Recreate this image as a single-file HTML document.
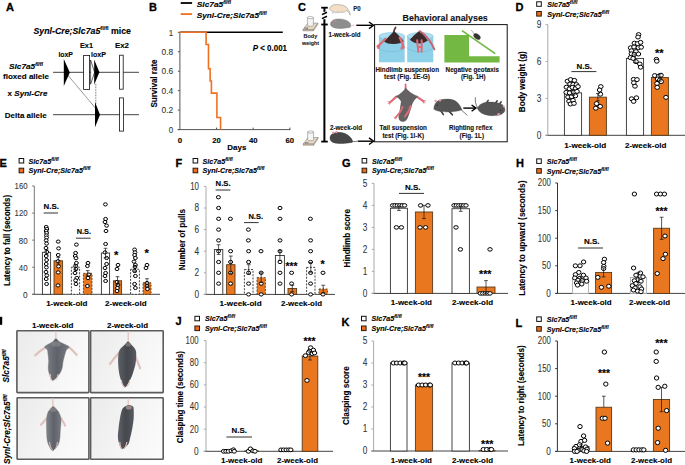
<!DOCTYPE html><html><head><meta charset="utf-8"><style>html,body{margin:0;padding:0;background:#fff;overflow:hidden}svg{display:block}text{font-family:"Liberation Sans",sans-serif}</style></head><body><svg width="685" height="465" viewBox="0 0 685 465"><text x="6" y="11.3" font-size="11.0" fill="#000" stroke="#000" stroke-width="0.3" style="font-weight:bold">A</text>
<text x="149" y="11.3" font-size="11.0" fill="#000" stroke="#000" stroke-width="0.3" style="font-weight:bold">B</text>
<text x="298" y="11.3" font-size="11.0" fill="#000" stroke="#000" stroke-width="0.3" style="font-weight:bold">C</text>
<text x="515.4" y="11.3" font-size="11.0" fill="#000" stroke="#000" stroke-width="0.3" style="font-weight:bold">D</text>
<text x="-0.5" y="166.9" font-size="11.0" fill="#000" stroke="#000" stroke-width="0.3" style="font-weight:bold">E</text>
<text x="175.6" y="166.9" font-size="11.0" fill="#000" stroke="#000" stroke-width="0.3" style="font-weight:bold">F</text>
<text x="342" y="166.9" font-size="11.0" fill="#000" stroke="#000" stroke-width="0.3" style="font-weight:bold">G</text>
<text x="516.0" y="166.70000000000002" font-size="11.0" fill="#000" stroke="#000" stroke-width="0.3" style="font-weight:bold">H</text>
<text x="175.6" y="325.3" font-size="11.0" fill="#000" stroke="#000" stroke-width="0.3" style="font-weight:bold">J</text>
<text x="341.4" y="325.5" font-size="11.0" fill="#000" stroke="#000" stroke-width="0.3" style="font-weight:bold">K</text>
<text x="515.4" y="326.5" font-size="11.0" fill="#000" stroke="#000" stroke-width="0.3" style="font-weight:bold">L</text>
<rect x="0" y="316.8" width="2.2" height="8" fill="#000"/>
<text x="33.5" y="33.6" font-size="8.30" fill="#000" stroke="#000" stroke-width="0.12" textLength="97.50" lengthAdjust="spacingAndGlyphs" style="font-weight:bold"><tspan style="font-style:italic">Synl-Cre;Slc7a5</tspan><tspan font-size="5.2" dy="-3.2">fl/fl</tspan><tspan dy="3.2"> mice</tspan></text>
<text x="80" y="48.2" font-size="8.10" fill="#000" stroke="#000" stroke-width="0.12" textLength="13.00" lengthAdjust="spacingAndGlyphs" style="font-weight:bold">Ex1</text>
<text x="115" y="48.2" font-size="8.10" fill="#000" stroke="#000" stroke-width="0.12" textLength="14.00" lengthAdjust="spacingAndGlyphs" style="font-weight:bold">Ex2</text>
<text x="58.4" y="57.2" font-size="7.60" fill="#000" stroke="#000" stroke-width="0.12" textLength="14.60" lengthAdjust="spacingAndGlyphs" style="font-weight:bold">loxP</text>
<text x="91" y="57.2" font-size="7.60" fill="#000" stroke="#000" stroke-width="0.12" textLength="15.00" lengthAdjust="spacingAndGlyphs" style="font-weight:bold">loxP</text>
<text x="9" y="69.2" font-size="7.90" fill="#000" stroke="#000" stroke-width="0.12" textLength="34.00" lengthAdjust="spacingAndGlyphs" style="font-weight:bold;font-style:italic">Slc7a5<tspan font-size="5.0" dy="-3.2">fl/fl</tspan></text>
<text x="3" y="79.4" font-size="8.10" fill="#000" stroke="#000" stroke-width="0.12" textLength="46.00" lengthAdjust="spacingAndGlyphs" style="font-weight:bold">floxed allele</text>
<text x="7.6" y="96.2" font-size="8.10" fill="#000" stroke="#000" stroke-width="0.12" textLength="39.80" lengthAdjust="spacingAndGlyphs" style="font-weight:bold">x <tspan style="font-style:italic">Synl-Cre</tspan></text>
<text x="4.8" y="118.0" font-size="8.10" fill="#000" stroke="#000" stroke-width="0.12" textLength="41.80" lengthAdjust="spacingAndGlyphs" style="font-weight:bold">Delta allele</text>
<line x1="53" y1="72.3" x2="139" y2="72.3" stroke="#444" stroke-width="1"/>
<line x1="53" y1="114.7" x2="139" y2="114.7" stroke="#444" stroke-width="1"/>
<line x1="66" y1="73" x2="95.8" y2="108.5" stroke="#111" stroke-width="0.7" stroke-dasharray="0.9 0.5"/>
<line x1="95.8" y1="84" x2="95.8" y2="104" stroke="#222" stroke-width="0.7" stroke-dasharray="0.8 0.8"/>
<path d="M63.8,59 L69.8,72.4 L63.8,86 Z" fill="#000"/>
<rect x="83.6" y="55.4" width="6" height="34" fill="#fff" stroke="#111" stroke-width="0.8"/>
<path d="M90.6,60 L94.6,72.3 L90.6,84.2 Z" fill="#fff" stroke="#000" stroke-width="0.6"/>
<path d="M94.2,59.6 L99.4,72.3 L94.2,84.8 Z" fill="#000"/>
<rect x="119.6" y="55.2" width="3.6" height="34" fill="#fff" stroke="#111" stroke-width="0.8"/>
<path d="M95,102 L100,114.7 L95,127.2 Z" fill="#000"/>
<rect x="119.5" y="97.9" width="4" height="33.2" fill="#fff" stroke="#111" stroke-width="0.8"/>
<line x1="180.7" y1="3" x2="192.1" y2="3" stroke="#000" stroke-width="1.8"/>
<line x1="180.7" y1="14.1" x2="192.1" y2="14.1" stroke="#F07020" stroke-width="1.8"/>
<text x="196.8" y="6.8" font-size="7.70" fill="#000" stroke="#000" stroke-width="0.12" textLength="34.20" lengthAdjust="spacingAndGlyphs" style="font-weight:bold;font-style:italic">Slc7a5<tspan font-size="4.8" dy="-3.0">fl/fl</tspan></text>
<text x="196.8" y="17.5" font-size="7.70" fill="#000" stroke="#000" stroke-width="0.12" textLength="69.80" lengthAdjust="spacingAndGlyphs" style="font-weight:bold;font-style:italic">Synl-Cre;Slc7a5<tspan font-size="4.8" dy="-3.0">fl/fl</tspan></text>
<line x1="179.9" y1="32.3" x2="179.9" y2="129.6" stroke="#555555" stroke-width="1"/>
<line x1="177.6" y1="129.6" x2="290.5" y2="129.6" stroke="#555555" stroke-width="1"/>
<line x1="177.9" y1="129.60" x2="179.9" y2="129.60" stroke="#555555" stroke-width="1"/>
<text x="168.79999999999998" y="132.79999999999998" font-size="8.60" fill="#333333" stroke="#333333" stroke-width="0.08" textLength="4.40" lengthAdjust="spacingAndGlyphs" style="">0</text>
<line x1="177.9" y1="110.14" x2="179.9" y2="110.14" stroke="#555555" stroke-width="1"/>
<text x="161.6" y="113.33999999999999" font-size="8.60" fill="#333333" stroke="#333333" stroke-width="0.08" textLength="11.60" lengthAdjust="spacingAndGlyphs" style="">0.2</text>
<line x1="177.9" y1="90.68" x2="179.9" y2="90.68" stroke="#555555" stroke-width="1"/>
<text x="161.6" y="93.88" font-size="8.60" fill="#333333" stroke="#333333" stroke-width="0.08" textLength="11.60" lengthAdjust="spacingAndGlyphs" style="">0.4</text>
<line x1="177.9" y1="71.22" x2="179.9" y2="71.22" stroke="#555555" stroke-width="1"/>
<text x="161.6" y="74.42" font-size="8.60" fill="#333333" stroke="#333333" stroke-width="0.08" textLength="11.60" lengthAdjust="spacingAndGlyphs" style="">0.6</text>
<line x1="177.9" y1="51.76" x2="179.9" y2="51.76" stroke="#555555" stroke-width="1"/>
<text x="161.6" y="54.959999999999994" font-size="8.60" fill="#333333" stroke="#333333" stroke-width="0.08" textLength="11.60" lengthAdjust="spacingAndGlyphs" style="">0.8</text>
<line x1="177.9" y1="32.30" x2="179.9" y2="32.30" stroke="#555555" stroke-width="1"/>
<text x="168.79999999999998" y="35.5" font-size="8.60" fill="#333333" stroke="#333333" stroke-width="0.08" textLength="4.40" lengthAdjust="spacingAndGlyphs" style="">1</text>
<text x="177.70000000000002" y="143.0" font-size="7.80" fill="#000" stroke="#000" stroke-width="0.12" textLength="4.40" lengthAdjust="spacingAndGlyphs" style="font-weight:bold">0</text>
<line x1="216.54" y1="127.6" x2="216.54" y2="129.6" stroke="#555555" stroke-width="1"/>
<text x="212.24" y="143.0" font-size="7.80" fill="#000" stroke="#000" stroke-width="0.12" textLength="8.60" lengthAdjust="spacingAndGlyphs" style="font-weight:bold">20</text>
<line x1="253.18" y1="127.6" x2="253.18" y2="129.6" stroke="#555555" stroke-width="1"/>
<text x="248.88" y="143.0" font-size="7.80" fill="#000" stroke="#000" stroke-width="0.12" textLength="8.60" lengthAdjust="spacingAndGlyphs" style="font-weight:bold">40</text>
<line x1="289.82" y1="127.6" x2="289.82" y2="129.6" stroke="#555555" stroke-width="1"/>
<text x="285.52" y="143.0" font-size="7.80" fill="#000" stroke="#000" stroke-width="0.12" textLength="8.60" lengthAdjust="spacingAndGlyphs" style="font-weight:bold">60</text>
<text x="227.3" y="149.6" font-size="7.80" fill="#000" stroke="#000" stroke-width="0.12" textLength="19.00" lengthAdjust="spacingAndGlyphs" style="font-weight:bold">Days</text>
<text x="0" y="0" font-size="8.969999999999999" fill="#000" text-anchor="middle" textLength="48.10" lengthAdjust="spacingAndGlyphs" stroke="#000" stroke-width="0.12" style="font-weight:bold" transform="translate(156.83 83.55) rotate(-90)">Survival rate</text>
<line x1="179.9" y1="32.3" x2="282.8" y2="32.3" stroke="#000" stroke-width="1.6"/>
<path d="M179.9,32.30 H206.10 V44.46 H208.48 V68.79 H210.13 V80.95 H211.41 V93.11 H216.91 V117.44 H220.57 V129.60" fill="none" stroke="#F07020" stroke-width="1.6"/>
<text x="252.7" y="50.6" font-size="8.60" fill="#000" stroke="#000" stroke-width="0.12" textLength="34.30" lengthAdjust="spacingAndGlyphs" style="font-weight:bold"><tspan style="font-style:italic">P</tspan> &lt; 0.001</text>
<line x1="324.4" y1="7.7" x2="324.4" y2="11.8" stroke="#000" stroke-width="2"/>
<line x1="322" y1="14.6" x2="327" y2="12.2" stroke="#000" stroke-width="1.6"/>
<line x1="322" y1="18.6" x2="327" y2="16.2" stroke="#000" stroke-width="1.6"/>
<line x1="324.4" y1="19.2" x2="324.4" y2="141.6" stroke="#000" stroke-width="2"/>
<line x1="321.2" y1="7.7" x2="327.8" y2="7.7" stroke="#000" stroke-width="1.8"/>
<line x1="321.2" y1="24.5" x2="327.8" y2="24.5" stroke="#000" stroke-width="1.8"/>
<line x1="321.2" y1="141.6" x2="327.8" y2="141.6" stroke="#000" stroke-width="1.8"/>
<line x1="356.3" y1="25.3" x2="372.5" y2="25.3" stroke="#000" stroke-width="1.4"/>
<path d="M369,22 L373.6,25.3 L369,28.6" fill="none" stroke="#000" stroke-width="1.4"/>
<line x1="358" y1="141.2" x2="372.5" y2="141.2" stroke="#000" stroke-width="1.4"/>
<path d="M369,137.9 L373.6,141.2 L369,144.5" fill="none" stroke="#000" stroke-width="1.4"/>
<rect x="374.6" y="24.6" width="132.6" height="117.2" fill="none" stroke="#111" stroke-width="1"/>
<path d="M302.9,29.6 L307.9,23.1 L317.9,23.1 L313.4,29.6 Z" fill="#e9d8c1" stroke="#777" stroke-width="0.5"/>
<path d="M302.9,29.6 L313.4,29.6 L313.4,30.900000000000002 L302.9,30.900000000000002 Z" fill="#cdb89c" stroke="#777" stroke-width="0.4"/>
<path d="M313.4,29.6 L317.9,23.1 L317.9,24.400000000000002 L313.4,30.900000000000002 Z" fill="#d8c4a8" stroke="#777" stroke-width="0.4"/>
<rect x="304.9" y="27.8" width="3" height="1.2" fill="#9ab" stroke="#666" stroke-width="0.3"/>
<path d="M307.4,17.6 L307.4,25.200000000000003 A3,1.1 0 0 0 313.4,25.200000000000003 L313.4,17.6 Z" fill="#f4f4f4" stroke="#777" stroke-width="0.5"/>
<ellipse cx="310.4" cy="17.6" rx="3" ry="1.1" fill="#fff" stroke="#777" stroke-width="0.5"/>
<path d="M303.1,144.0 L308.1,137.5 L318.1,137.5 L313.6,144.0 Z" fill="#e9d8c1" stroke="#777" stroke-width="0.5"/>
<path d="M303.1,144.0 L313.6,144.0 L313.6,145.3 L303.1,145.3 Z" fill="#cdb89c" stroke="#777" stroke-width="0.4"/>
<path d="M313.6,144.0 L318.1,137.5 L318.1,138.8 L313.6,145.3 Z" fill="#d8c4a8" stroke="#777" stroke-width="0.4"/>
<rect x="305.1" y="142.2" width="3" height="1.2" fill="#9ab" stroke="#666" stroke-width="0.3"/>
<path d="M307.6,132.0 L307.6,139.6 A3,1.1 0 0 0 313.6,139.6 L313.6,132.0 Z" fill="#f4f4f4" stroke="#777" stroke-width="0.5"/>
<ellipse cx="310.6" cy="132.0" rx="3" ry="1.1" fill="#fff" stroke="#777" stroke-width="0.5"/>
<text x="303.6" y="37.9" font-size="6.20" fill="#222" stroke="#222" stroke-width="0.12" textLength="13.60" lengthAdjust="spacingAndGlyphs" style="font-weight:bold">Body</text>
<text x="302.1" y="44.7" font-size="6.20" fill="#222" stroke="#222" stroke-width="0.12" textLength="17.00" lengthAdjust="spacingAndGlyphs" style="font-weight:bold">weight</text>
<path d="M329.5,8.2 C331,5.5 334,4.2 337,4.6 C341,4.6 345,5.4 347,7.8 C348.5,9.6 349.8,12 350.3,15.2 C349.2,12.6 347.6,10.8 346,10.6 C345.6,11.6 344.6,12.2 343.4,12.2 L336.5,12.2 C335,12.6 333.3,12.4 332.2,11 C330.8,10.6 329.6,9.6 329.5,8.2 Z" fill="#f2dfc6" stroke="#888" stroke-width="0.5"/>
<path d="M333,12.2 L332.4,13.8 M338,12.4 L337.6,13.4" stroke="#6a8fb8" stroke-width="0.5"/>
<text x="353.2" y="10.8" font-size="6.60" fill="#222" stroke="#222" stroke-width="0.12" textLength="7.40" lengthAdjust="spacingAndGlyphs" style="font-weight:bold">P0</text>
<path d="M330.4,24 C330.8,21 333.6,19.2 337,19 C342,18.6 347,19.6 349.8,22.8 C351,24.6 351,26.2 350,27.4 L344,28.2 C340,28.6 336,28.4 333.4,27.4 C331.4,26.8 330.4,25.6 330.4,24 Z" fill="#8e8e8e" stroke="#777" stroke-width="0.4"/>
<path d="M350.4,26.2 Q352.5,25.2 354.4,25.3" stroke="#e39a9a" stroke-width="0.7" fill="none"/>
<circle cx="335" cy="21.3" r="0.9" fill="#e27a8a"/><circle cx="333.4" cy="26.4" r="0.5" fill="#e27a8a"/>
<text x="328.5" y="36.6" font-size="6.40" fill="#111" stroke="#111" stroke-width="0.12" textLength="31.90" lengthAdjust="spacingAndGlyphs" style="font-weight:bold">1-week-old</text>
<path d="M330,137.5 C330.4,134.6 333,132.6 336.6,132.4 C342,132 347.5,133.6 350.6,137.6 C352.4,139.6 353,141.2 352.2,142.4 L346,143.2 C341,143.8 336,143.6 333,142.4 C330.8,141.6 329.8,139.6 330,137.5 Z" fill="#474747" stroke="#333" stroke-width="0.4"/>
<path d="M352,141.6 Q355.5,141.6 358,141.2" stroke="#555" stroke-width="0.8" fill="none"/>
<circle cx="333.2" cy="132.8" r="1.2" fill="#e89aa6"/><circle cx="336.4" cy="132.2" r="1.1" fill="#e89aa6"/>
<text x="330" y="129.8" font-size="6.40" fill="#111" stroke="#111" stroke-width="0.12" textLength="32.00" lengthAdjust="spacingAndGlyphs" style="font-weight:bold">2-week-old</text>
<text x="402.6" y="20.9" font-size="9.60" fill="#111" stroke="#111" stroke-width="0.12" textLength="85.20" lengthAdjust="spacingAndGlyphs" style="font-weight:bold">Behavioral analyses</text>
<path d="M378.9,36.2 L378.9,62.3 L404.7,62.3 L404.7,36.2 Z" fill="#8dd0e8"/>
<path d="M378.9,47.5 A12.9,4.2 0 0 0 404.7,47.5" fill="none" stroke="#6fb6d2" stroke-width="0.5"/>
<ellipse cx="391.79999999999995" cy="36.2" rx="12.9" ry="3.6" fill="#abdff1" stroke="#78bcd6" stroke-width="0.5"/>
<path d="M407.2,36.2 L407.2,62.3 L433.3,62.3 L433.3,36.2 Z" fill="#8dd0e8"/>
<path d="M407.2,47.5 A13.05,4.2 0 0 0 433.3,47.5" fill="none" stroke="#6fb6d2" stroke-width="0.5"/>
<ellipse cx="420.25" cy="36.2" rx="13.05" ry="3.6" fill="#abdff1" stroke="#78bcd6" stroke-width="0.5"/>
<path d="M393.6,32.2 C394,30.4 394.6,28.8 395.6,27.4" stroke="#5a3434" stroke-width="1.7" fill="none" stroke-linecap="round"/>
<path d="M394.2,31.2 C391,34 387,38 384,41.6 C386.5,43.6 390,44.2 394,44 C398,43.8 401.5,43 403.8,41.2 C401,37.6 397.6,34 394.2,31.2 Z" fill="#3b2a2b"/>
<path d="M385.4,38.6 C383,41.6 380.5,44 377.6,46.4 M379.6,44.6 L378.4,48 M399.8,37.6 C401.4,40.6 402.8,43.6 403.6,47.6 M403.2,45.2 L401.6,48.4" stroke="#e06b78" stroke-width="2.3" fill="none" stroke-linecap="round"/>
<path d="M419.4,30.8 C416,33.6 412.4,36.6 409.8,39.8 C412.6,42.6 416.4,43.8 420.4,43.4 C423,43 425.6,41.8 427.8,40.4 C425.4,36.8 422.4,33.4 419.4,30.8 Z" fill="#3b2a2b"/>
<path d="M419.6,31.2 C424,33.6 428.6,39 431.4,43.6 C432.6,45.6 433.6,47.6 434.4,49.4" stroke="#c8626d" stroke-width="1.9" fill="none" stroke-linecap="round"/>
<path d="M417.2,40.2 C417.4,44 417.8,48 418.4,51.8 M421.6,40.2 C421.8,44 421.8,48 421.6,51.8 M418,47 L421.6,47" stroke="#e06b78" stroke-width="2.0" fill="none" stroke-linecap="round"/>
<text x="375.6" y="72.2" font-size="6.60" fill="#111" stroke="#111" stroke-width="0.12" textLength="63.40" lengthAdjust="spacingAndGlyphs" style="font-weight:bold">Hindlimb suspension</text>
<text x="384" y="79.2" font-size="6.60" fill="#111" stroke="#111" stroke-width="0.12" textLength="46.00" lengthAdjust="spacingAndGlyphs" style="font-weight:bold">test  (Fig. 1E-G)</text>
<path d="M444.4,35.0 L469,35.0 L469,56.2 L499.6,56.2 L499.6,62.4 L444.4,62.4 Z" fill="#72b843"/>
<line x1="462" y1="30.6" x2="495.2" y2="53.6" stroke="#72b843" stroke-width="1.7"/>
<ellipse cx="477.0" cy="36.5" rx="4.0" ry="2.5" transform="rotate(38 477 36.5)" fill="#363636"/>
<path d="M474.2,34 C473.2,32.6 472.2,31.2 471.2,30" stroke="#777" stroke-width="0.6" fill="none"/>
<text x="445.6" y="71.8" font-size="6.60" fill="#111" stroke="#111" stroke-width="0.12" textLength="53.40" lengthAdjust="spacingAndGlyphs" style="font-weight:bold">Negative geotaxis</text>
<text x="461" y="79.2" font-size="6.60" fill="#111" stroke="#111" stroke-width="0.12" textLength="24.60" lengthAdjust="spacingAndGlyphs" style="font-weight:bold">(Fig. 1H)</text>
<path d="M405.6,84.4 L405.6,88.4" stroke="#e06b78" stroke-width="1.8" stroke-linecap="round"/>
<path d="M396.4,96.6 L390.2,102.2 M416.8,96.6 L423.2,101.2" stroke="#e06b78" stroke-width="2.2" fill="none" stroke-linecap="round"/>
<path d="M390.2,102.2 l-2.2,-0.4 M390.2,102.2 l-1.8,1.4 M390.2,102.2 l-0.6,2 M423.2,101.2 l2.2,-0.6 M423.2,101.2 l1.8,1.2 M423.2,101.2 l0.6,2" stroke="#e06b78" stroke-width="0.9" stroke-linecap="round"/>
<path d="M405.6,87.6 C403.6,91.2 400,94.6 395.4,96.4 C398,97.6 400.4,99.4 401,101.6 C400.6,105 400,108 399.6,111 C399,114 398.2,116.4 398.6,118.4 C399.4,120.6 401.4,122 403.6,121.8 C405.8,121.4 407.4,119.4 408.2,116.8 C409.6,113 410.8,109.4 411.6,106.4 C412.4,103.6 413.6,101.2 414.8,99.8 C415.8,98.6 416.8,97.6 418,96.4 C412.6,94.4 408,91 405.6,87.6 Z" fill="#656263"/>
<path d="M402.6,107 C401.4,110.6 399,114 396,117.2 M410.6,106 C410,109.6 408,112.8 405.6,115.6" stroke="#e06b78" stroke-width="1.9" fill="none" stroke-linecap="round"/>
<path d="M396,117.2 l-1.8,0.2 M396,117.2 l-1.2,1.4 M396,117.2 l-0.2,1.8 M405.6,115.6 l-1.6,0.8 M405.6,115.6 l-0.6,1.8" stroke="#e06b78" stroke-width="0.8" stroke-linecap="round"/>
<text x="379.6" y="130.4" font-size="6.60" fill="#111" stroke="#111" stroke-width="0.12" textLength="47.40" lengthAdjust="spacingAndGlyphs" style="font-weight:bold">Tail suspension</text>
<text x="382.4" y="138.2" font-size="6.60" fill="#111" stroke="#111" stroke-width="0.12" textLength="41.60" lengthAdjust="spacingAndGlyphs" style="font-weight:bold">test (Fig. 1I-K)</text>
<path d="M461,109.6 C463,111.6 465.4,113.6 467.4,115.4" stroke="#555" stroke-width="0.8" fill="none"/>
<path d="M441,111 L443.4,114.6 M449.4,111.6 L452.4,114.8" stroke="#3c3c3c" stroke-width="1.6" stroke-linecap="round"/>
<path d="M433.8,108.6 C434,104.6 436,101.4 439.6,100 C443.6,99 448,98.8 452,99.6 C456,100.6 459.4,103.4 462,109.8 C458.4,111.2 454,111.8 448.6,112 C443.6,112 439.4,111.6 436.4,110.6 C435,110.2 434.2,109.6 433.8,108.6 Z" fill="#555" stroke="#444" stroke-width="0.3"/>
<circle cx="435.6" cy="100.9" r="1.25" fill="#eb9aa6"/><circle cx="440.1" cy="100.4" r="1.15" fill="#eb9aa6"/><circle cx="433.7" cy="109" r="0.6" fill="#eb9aa6"/>
<circle cx="437.2" cy="105.2" r="0.6" fill="#222"/>
<line x1="463.3" y1="108.1" x2="475" y2="108.1" stroke="#000" stroke-width="1.4"/>
<path d="M471.6,105 L476,108.1 L471.6,111.2" fill="none" stroke="#000" stroke-width="1.4"/>
<path d="M477.6,107.6 C475.6,104.6 475,101 475.4,97.3" stroke="#555" stroke-width="0.8" fill="none"/>
<path d="M486.4,103.2 L488.2,100.3 M495.6,103 L497.2,100.8 M499.6,104 L501.2,101.8" stroke="#3c3c3c" stroke-width="1.5" stroke-linecap="round"/>
<path d="M477.2,108 C479,105 482,102.8 486,102.2 C491,101.8 496,102.2 500,103.4 C503,104.6 505,107 505,110.2 C504.4,113 501.4,115 496.4,115.6 C491,116 486,115.4 482,113.4 C479.6,112 478,110 477.2,108 Z" fill="#555" stroke="#444" stroke-width="0.3"/>
<circle cx="498.6" cy="114.4" r="1.3" fill="#eb9aa6"/><circle cx="503.8" cy="106.4" r="1.0" fill="#eb9aa6"/><circle cx="505" cy="111" r="0.6" fill="#eb9aa6"/>
<circle cx="500.6" cy="110.4" r="0.6" fill="#222"/>
<text x="449" y="130.4" font-size="6.60" fill="#111" stroke="#111" stroke-width="0.12" textLength="43.40" lengthAdjust="spacingAndGlyphs" style="font-weight:bold">Righting reflex</text>
<text x="459.6" y="138.2" font-size="6.60" fill="#111" stroke="#111" stroke-width="0.12" textLength="24.40" lengthAdjust="spacingAndGlyphs" style="font-weight:bold">(Fig. 1L)</text>
<rect x="536.70" y="1.80" width="4.6" height="4.5" fill="#fff" stroke="#111" stroke-width="1.0"/>
<rect x="536.70" y="11.50" width="4.6" height="4.6" fill="#EC6E1E" stroke="#2a1a0a" stroke-width="1.0"/>
<text x="547.2" y="6.8" font-size="7.40" fill="#000" stroke="#000" stroke-width="0.12" textLength="30.20" lengthAdjust="spacingAndGlyphs" style="font-weight:bold;font-style:italic">Slc7a5<tspan font-size="5.2" dy="-3.0">fl/fl</tspan></text>
<text x="547.2" y="16.5" font-size="7.40" fill="#000" stroke="#000" stroke-width="0.12" textLength="62.00" lengthAdjust="spacingAndGlyphs" style="font-weight:bold;font-style:italic">Synl-Cre;Slc7a5<tspan font-size="5.2" dy="-3.0">fl/fl</tspan></text>
<line x1="547.8" y1="24.6" x2="547.8" y2="135.3" stroke="#aaa" stroke-width="1"/>
<line x1="545.5999999999999" y1="135.3" x2="685" y2="135.3" stroke="#444" stroke-width="1"/>
<line x1="545.5999999999999" y1="135.30" x2="547.8" y2="135.30" stroke="#aaa" stroke-width="1"/>
<text x="536.8" y="138.70000000000002" font-size="10.75" fill="#333333" stroke="#333333" stroke-width="0.08" textLength="4.60" lengthAdjust="spacingAndGlyphs" style="">0</text>
<line x1="545.5999999999999" y1="98.40" x2="547.8" y2="98.40" stroke="#aaa" stroke-width="1"/>
<text x="536.8" y="101.80000000000001" font-size="10.75" fill="#333333" stroke="#333333" stroke-width="0.08" textLength="4.60" lengthAdjust="spacingAndGlyphs" style="">3</text>
<line x1="545.5999999999999" y1="61.50" x2="547.8" y2="61.50" stroke="#aaa" stroke-width="1"/>
<text x="536.8" y="64.9" font-size="10.75" fill="#333333" stroke="#333333" stroke-width="0.08" textLength="4.60" lengthAdjust="spacingAndGlyphs" style="">6</text>
<line x1="545.5999999999999" y1="24.60" x2="547.8" y2="24.60" stroke="#aaa" stroke-width="1"/>
<text x="536.8" y="27.999999999999993" font-size="10.75" fill="#333333" stroke="#333333" stroke-width="0.08" textLength="4.60" lengthAdjust="spacingAndGlyphs" style="">9</text>
<text x="0" y="0" font-size="9.2" fill="#000" text-anchor="middle" textLength="60.90" lengthAdjust="spacingAndGlyphs" stroke="#000" stroke-width="0.12" style="font-weight:bold" transform="translate(524.81 81.75) rotate(-90)">Body weight (g)</text>
<rect x="564.40" y="92.87" width="17.20" height="42.44" fill="#fff" stroke="#333" stroke-width="0.9"/>
<rect x="589.40" y="97.17" width="17.00" height="38.13" fill="#E8771F" stroke="#5a3a1a" stroke-width="0.9"/>
<rect x="626.40" y="58.42" width="17.20" height="76.88" fill="#fff" stroke="#333" stroke-width="0.9"/>
<rect x="651.40" y="77.49" width="17.00" height="57.81" fill="#E8771F" stroke="#5a3a1a" stroke-width="0.9"/>
<ellipse cx="567.40" cy="81.20" rx="2.3" ry="2.0" fill="#fff" stroke="#000" stroke-width="1.0"/>
<ellipse cx="570.60" cy="79.60" rx="2.3" ry="2.0" fill="#fff" stroke="#000" stroke-width="1.0"/>
<ellipse cx="574.40" cy="80.40" rx="2.3" ry="2.0" fill="#fff" stroke="#000" stroke-width="1.0"/>
<ellipse cx="570.00" cy="84.00" rx="2.3" ry="2.0" fill="#fff" stroke="#000" stroke-width="1.0"/>
<ellipse cx="573.20" cy="84.40" rx="2.3" ry="2.0" fill="#fff" stroke="#000" stroke-width="1.0"/>
<ellipse cx="576.40" cy="84.60" rx="2.3" ry="2.0" fill="#fff" stroke="#000" stroke-width="1.0"/>
<ellipse cx="566.40" cy="87.20" rx="2.3" ry="2.0" fill="#fff" stroke="#000" stroke-width="1.0"/>
<ellipse cx="569.40" cy="88.80" rx="2.3" ry="2.0" fill="#fff" stroke="#000" stroke-width="1.0"/>
<ellipse cx="572.40" cy="87.40" rx="2.3" ry="2.0" fill="#fff" stroke="#000" stroke-width="1.0"/>
<ellipse cx="575.60" cy="88.40" rx="2.3" ry="2.0" fill="#fff" stroke="#000" stroke-width="1.0"/>
<ellipse cx="578.00" cy="86.60" rx="2.3" ry="2.0" fill="#fff" stroke="#000" stroke-width="1.0"/>
<ellipse cx="566.20" cy="92.40" rx="2.3" ry="2.0" fill="#fff" stroke="#000" stroke-width="1.0"/>
<ellipse cx="569.60" cy="92.80" rx="2.3" ry="2.0" fill="#fff" stroke="#000" stroke-width="1.0"/>
<ellipse cx="573.40" cy="92.00" rx="2.3" ry="2.0" fill="#fff" stroke="#000" stroke-width="1.0"/>
<ellipse cx="577.00" cy="91.40" rx="2.3" ry="2.0" fill="#fff" stroke="#000" stroke-width="1.0"/>
<ellipse cx="568.00" cy="97.00" rx="2.3" ry="2.0" fill="#fff" stroke="#000" stroke-width="1.0"/>
<ellipse cx="571.60" cy="96.60" rx="2.3" ry="2.0" fill="#fff" stroke="#000" stroke-width="1.0"/>
<ellipse cx="575.40" cy="95.80" rx="2.3" ry="2.0" fill="#fff" stroke="#000" stroke-width="1.0"/>
<ellipse cx="569.00" cy="101.20" rx="2.3" ry="2.0" fill="#fff" stroke="#000" stroke-width="1.0"/>
<ellipse cx="573.00" cy="100.40" rx="2.3" ry="2.0" fill="#fff" stroke="#000" stroke-width="1.0"/>
<ellipse cx="570.40" cy="104.00" rx="2.3" ry="2.0" fill="#fff" stroke="#000" stroke-width="1.0"/>
<ellipse cx="574.00" cy="103.40" rx="2.3" ry="2.0" fill="#fff" stroke="#000" stroke-width="1.0"/>
<ellipse cx="600.80" cy="86.60" rx="2.3" ry="2.0" fill="#fff" stroke="#000" stroke-width="1.0"/>
<ellipse cx="599.60" cy="90.00" rx="2.3" ry="2.0" fill="#fff" stroke="#000" stroke-width="1.0"/>
<ellipse cx="600.40" cy="94.20" rx="2.3" ry="2.0" fill="#fff" stroke="#000" stroke-width="1.0"/>
<ellipse cx="596.60" cy="103.60" rx="2.3" ry="2.0" fill="#fff" stroke="#000" stroke-width="1.0"/>
<ellipse cx="600.20" cy="106.40" rx="2.3" ry="2.0" fill="#fff" stroke="#000" stroke-width="1.0"/>
<ellipse cx="595.80" cy="108.20" rx="2.3" ry="2.0" fill="#fff" stroke="#000" stroke-width="1.0"/>
<ellipse cx="638.60" cy="34.60" rx="2.3" ry="2.0" fill="#fff" stroke="#000" stroke-width="1.0"/>
<ellipse cx="638.00" cy="37.00" rx="2.3" ry="2.0" fill="#fff" stroke="#000" stroke-width="1.0"/>
<ellipse cx="634.40" cy="43.20" rx="2.3" ry="2.0" fill="#fff" stroke="#000" stroke-width="1.0"/>
<ellipse cx="637.60" cy="43.60" rx="2.3" ry="2.0" fill="#fff" stroke="#000" stroke-width="1.0"/>
<ellipse cx="640.60" cy="42.40" rx="2.3" ry="2.0" fill="#fff" stroke="#000" stroke-width="1.0"/>
<ellipse cx="630.60" cy="47.80" rx="2.3" ry="2.0" fill="#fff" stroke="#000" stroke-width="1.0"/>
<ellipse cx="634.00" cy="47.00" rx="2.3" ry="2.0" fill="#fff" stroke="#000" stroke-width="1.0"/>
<ellipse cx="638.40" cy="47.60" rx="2.3" ry="2.0" fill="#fff" stroke="#000" stroke-width="1.0"/>
<ellipse cx="641.20" cy="47.20" rx="2.3" ry="2.0" fill="#fff" stroke="#000" stroke-width="1.0"/>
<ellipse cx="631.40" cy="50.80" rx="2.3" ry="2.0" fill="#fff" stroke="#000" stroke-width="1.0"/>
<ellipse cx="636.00" cy="51.60" rx="2.3" ry="2.0" fill="#fff" stroke="#000" stroke-width="1.0"/>
<ellipse cx="631.40" cy="53.80" rx="2.3" ry="2.0" fill="#fff" stroke="#000" stroke-width="1.0"/>
<ellipse cx="634.40" cy="54.40" rx="2.3" ry="2.0" fill="#fff" stroke="#000" stroke-width="1.0"/>
<ellipse cx="638.40" cy="54.00" rx="2.3" ry="2.0" fill="#fff" stroke="#000" stroke-width="1.0"/>
<ellipse cx="630.40" cy="57.60" rx="2.3" ry="2.0" fill="#fff" stroke="#000" stroke-width="1.0"/>
<ellipse cx="633.20" cy="58.40" rx="2.3" ry="2.0" fill="#fff" stroke="#000" stroke-width="1.0"/>
<ellipse cx="636.00" cy="61.60" rx="2.3" ry="2.0" fill="#fff" stroke="#000" stroke-width="1.0"/>
<ellipse cx="639.80" cy="64.00" rx="2.3" ry="2.0" fill="#fff" stroke="#000" stroke-width="1.0"/>
<ellipse cx="640.60" cy="67.20" rx="2.3" ry="2.0" fill="#fff" stroke="#000" stroke-width="1.0"/>
<ellipse cx="633.60" cy="79.40" rx="2.3" ry="2.0" fill="#fff" stroke="#000" stroke-width="1.0"/>
<ellipse cx="637.00" cy="79.60" rx="2.3" ry="2.0" fill="#fff" stroke="#000" stroke-width="1.0"/>
<ellipse cx="633.80" cy="82.80" rx="2.3" ry="2.0" fill="#fff" stroke="#000" stroke-width="1.0"/>
<ellipse cx="635.00" cy="86.20" rx="2.3" ry="2.0" fill="#fff" stroke="#000" stroke-width="1.0"/>
<ellipse cx="631.60" cy="98.80" rx="2.3" ry="2.0" fill="#fff" stroke="#000" stroke-width="1.0"/>
<ellipse cx="636.40" cy="97.80" rx="2.3" ry="2.0" fill="#fff" stroke="#000" stroke-width="1.0"/>
<ellipse cx="633.60" cy="101.40" rx="2.3" ry="2.0" fill="#fff" stroke="#000" stroke-width="1.0"/>
<ellipse cx="656.40" cy="59.40" rx="2.3" ry="2.0" fill="#fff" stroke="#000" stroke-width="1.0"/>
<ellipse cx="656.80" cy="61.20" rx="2.3" ry="2.0" fill="#fff" stroke="#000" stroke-width="1.0"/>
<ellipse cx="654.80" cy="75.60" rx="2.3" ry="2.0" fill="#fff" stroke="#000" stroke-width="1.0"/>
<ellipse cx="658.60" cy="76.40" rx="2.3" ry="2.0" fill="#fff" stroke="#000" stroke-width="1.0"/>
<ellipse cx="661.00" cy="75.20" rx="2.3" ry="2.0" fill="#fff" stroke="#000" stroke-width="1.0"/>
<ellipse cx="657.60" cy="79.00" rx="2.3" ry="2.0" fill="#fff" stroke="#000" stroke-width="1.0"/>
<ellipse cx="659.80" cy="80.00" rx="2.3" ry="2.0" fill="#fff" stroke="#000" stroke-width="1.0"/>
<ellipse cx="657.00" cy="83.40" rx="2.3" ry="2.0" fill="#fff" stroke="#000" stroke-width="1.0"/>
<ellipse cx="661.20" cy="81.60" rx="2.3" ry="2.0" fill="#fff" stroke="#000" stroke-width="1.0"/>
<ellipse cx="657.20" cy="87.40" rx="2.3" ry="2.0" fill="#fff" stroke="#000" stroke-width="1.0"/>
<ellipse cx="666.00" cy="97.40" rx="2.3" ry="2.0" fill="#fff" stroke="#000" stroke-width="1.0"/>
<line x1="573.00" y1="90.16" x2="573.00" y2="95.57" stroke="#111" stroke-width="0.7"/>
<line x1="571.10" y1="90.16" x2="574.90" y2="90.16" stroke="#111" stroke-width="0.7"/>
<line x1="571.10" y1="95.57" x2="574.90" y2="95.57" stroke="#111" stroke-width="0.7"/>
<line x1="597.90" y1="93.48" x2="597.90" y2="100.86" stroke="#111" stroke-width="0.7"/>
<line x1="596.00" y1="93.48" x2="599.80" y2="93.48" stroke="#111" stroke-width="0.7"/>
<line x1="596.00" y1="100.86" x2="599.80" y2="100.86" stroke="#111" stroke-width="0.7"/>
<line x1="635.00" y1="54.12" x2="635.00" y2="62.73" stroke="#111" stroke-width="0.7"/>
<line x1="633.10" y1="54.12" x2="636.90" y2="54.12" stroke="#111" stroke-width="0.7"/>
<line x1="633.10" y1="62.73" x2="636.90" y2="62.73" stroke="#111" stroke-width="0.7"/>
<line x1="659.90" y1="73.80" x2="659.90" y2="81.18" stroke="#111" stroke-width="0.7"/>
<line x1="658.00" y1="73.80" x2="661.80" y2="73.80" stroke="#111" stroke-width="0.7"/>
<line x1="658.00" y1="81.18" x2="661.80" y2="81.18" stroke="#111" stroke-width="0.7"/>
<line x1="571.4" y1="71.6" x2="596.4" y2="71.6" stroke="#333" stroke-width="1"/>
<text x="576.6" y="69.0" font-size="7.00" fill="#000" stroke="#000" stroke-width="0.12" textLength="15.40" lengthAdjust="spacingAndGlyphs" style="font-weight:bold">N.S.</text>
<text x="655" y="56.785000000000004" font-size="10.50" fill="#000" stroke="#000" stroke-width="0.12" textLength="8.60" lengthAdjust="spacingAndGlyphs" style="font-weight:bold">**</text>
<text x="564.2" y="148.0" font-size="7.80" fill="#000" stroke="#000" stroke-width="0.12" textLength="42.00" lengthAdjust="spacingAndGlyphs" style="font-weight:bold">1-week-old</text>
<text x="625" y="148.0" font-size="7.80" fill="#000" stroke="#000" stroke-width="0.12" textLength="41.40" lengthAdjust="spacingAndGlyphs" style="font-weight:bold">2-week-old</text>
<rect x="19.10" y="158.50" width="4.6" height="4.5" fill="#fff" stroke="#111" stroke-width="1.0"/>
<rect x="19.10" y="168.20" width="4.6" height="4.6" fill="#EC6E1E" stroke="#2a1a0a" stroke-width="1.0"/>
<text x="28.5" y="163.6" font-size="7.40" fill="#000" stroke="#000" stroke-width="0.12" textLength="30.20" lengthAdjust="spacingAndGlyphs" style="font-weight:bold;font-style:italic">Slc7a5<tspan font-size="5.2" dy="-3.0">fl/fl</tspan></text>
<text x="28.5" y="173.29999999999998" font-size="7.40" fill="#000" stroke="#000" stroke-width="0.12" textLength="62.00" lengthAdjust="spacingAndGlyphs" style="font-weight:bold;font-style:italic">Synl-Cre;Slc7a5<tspan font-size="5.2" dy="-3.0">fl/fl</tspan></text>
<line x1="34.3" y1="186.0" x2="34.3" y2="294.3" stroke="#777" stroke-width="1"/>
<line x1="32.099999999999994" y1="294.3" x2="160" y2="294.3" stroke="#444" stroke-width="1"/>
<line x1="32.099999999999994" y1="294.30" x2="34.3" y2="294.30" stroke="#777" stroke-width="1"/>
<text x="23.0" y="297.7" font-size="9.75" fill="#333333" stroke="#333333" stroke-width="0.08" textLength="4.60" lengthAdjust="spacingAndGlyphs" style="">0</text>
<line x1="32.099999999999994" y1="267.23" x2="34.3" y2="267.23" stroke="#777" stroke-width="1"/>
<text x="18.8" y="270.625" font-size="9.75" fill="#333333" stroke="#333333" stroke-width="0.08" textLength="8.80" lengthAdjust="spacingAndGlyphs" style="">40</text>
<line x1="32.099999999999994" y1="240.15" x2="34.3" y2="240.15" stroke="#777" stroke-width="1"/>
<text x="18.8" y="243.55" font-size="9.75" fill="#333333" stroke="#333333" stroke-width="0.08" textLength="8.80" lengthAdjust="spacingAndGlyphs" style="">80</text>
<line x1="32.099999999999994" y1="213.07" x2="34.3" y2="213.07" stroke="#777" stroke-width="1"/>
<text x="14.600000000000001" y="216.475" font-size="9.75" fill="#333333" stroke="#333333" stroke-width="0.08" textLength="13.00" lengthAdjust="spacingAndGlyphs" style="">120</text>
<line x1="32.099999999999994" y1="186.00" x2="34.3" y2="186.00" stroke="#777" stroke-width="1"/>
<text x="14.600000000000001" y="189.4" font-size="9.75" fill="#333333" stroke="#333333" stroke-width="0.08" textLength="13.00" lengthAdjust="spacingAndGlyphs" style="">160</text>
<text x="0" y="0" font-size="8.969999999999999" fill="#000" text-anchor="middle" textLength="91.00" lengthAdjust="spacingAndGlyphs" stroke="#000" stroke-width="0.12" style="font-weight:bold" transform="translate(9.83 240.50) rotate(-90)">Latency to fall (seconds)</text>
<rect x="42.40" y="252.33" width="8.20" height="41.97" fill="#fff" stroke="#333" stroke-width="0.9"/>
<rect x="54.00" y="260.79" width="8.60" height="33.51" fill="#E8771F" stroke="#5a3a1a" stroke-width="0.9"/>
<rect x="71.40" y="267.23" width="8.20" height="27.07" fill="#fff" stroke="#333" stroke-width="0.9" stroke-dasharray="2 1.3"/>
<rect x="83.40" y="273.32" width="8.60" height="20.98" fill="#E8771F" stroke="#5a3a1a" stroke-width="0.9" stroke-dasharray="2 1.3"/>
<rect x="101.40" y="253.01" width="8.20" height="41.29" fill="#fff" stroke="#333" stroke-width="0.9"/>
<rect x="113.40" y="280.76" width="8.20" height="13.54" fill="#E8771F" stroke="#5a3a1a" stroke-width="0.9"/>
<rect x="130.60" y="269.26" width="8.80" height="25.04" fill="#fff" stroke="#333" stroke-width="0.9" stroke-dasharray="2 1.3"/>
<rect x="143.00" y="282.79" width="8.00" height="11.51" fill="#E8771F" stroke="#5a3a1a" stroke-width="0.9" stroke-dasharray="2 1.3"/>
<ellipse cx="46.20" cy="227.00" rx="1.9" ry="1.6" fill="#fff" stroke="#000" stroke-width="1.0"/>
<ellipse cx="46.80" cy="229.00" rx="1.9" ry="1.6" fill="#fff" stroke="#000" stroke-width="1.0"/>
<ellipse cx="46.20" cy="231.00" rx="1.9" ry="1.6" fill="#fff" stroke="#000" stroke-width="1.0"/>
<ellipse cx="46.60" cy="233.00" rx="1.9" ry="1.6" fill="#fff" stroke="#000" stroke-width="1.0"/>
<ellipse cx="46.40" cy="235.40" rx="1.9" ry="1.6" fill="#fff" stroke="#000" stroke-width="1.0"/>
<ellipse cx="46.60" cy="237.60" rx="1.9" ry="1.6" fill="#fff" stroke="#000" stroke-width="1.0"/>
<ellipse cx="46.20" cy="240.40" rx="1.9" ry="1.6" fill="#fff" stroke="#000" stroke-width="1.0"/>
<ellipse cx="46.60" cy="243.60" rx="1.9" ry="1.6" fill="#fff" stroke="#000" stroke-width="1.0"/>
<ellipse cx="46.00" cy="248.00" rx="1.9" ry="1.6" fill="#fff" stroke="#000" stroke-width="1.0"/>
<ellipse cx="46.80" cy="252.00" rx="1.9" ry="1.6" fill="#fff" stroke="#000" stroke-width="1.0"/>
<ellipse cx="46.20" cy="256.00" rx="1.9" ry="1.6" fill="#fff" stroke="#000" stroke-width="1.0"/>
<ellipse cx="46.60" cy="260.00" rx="1.9" ry="1.6" fill="#fff" stroke="#000" stroke-width="1.0"/>
<ellipse cx="46.20" cy="264.00" rx="1.9" ry="1.6" fill="#fff" stroke="#000" stroke-width="1.0"/>
<ellipse cx="46.40" cy="267.40" rx="1.9" ry="1.6" fill="#fff" stroke="#000" stroke-width="1.0"/>
<ellipse cx="46.00" cy="272.00" rx="1.9" ry="1.6" fill="#fff" stroke="#000" stroke-width="1.0"/>
<ellipse cx="46.80" cy="275.40" rx="1.9" ry="1.6" fill="#fff" stroke="#000" stroke-width="1.0"/>
<ellipse cx="46.20" cy="279.00" rx="1.9" ry="1.6" fill="#fff" stroke="#000" stroke-width="1.0"/>
<ellipse cx="46.60" cy="284.00" rx="1.9" ry="1.6" fill="#fff" stroke="#000" stroke-width="1.0"/>
<ellipse cx="58.20" cy="241.60" rx="1.9" ry="1.6" fill="#fff" stroke="#000" stroke-width="1.0"/>
<ellipse cx="58.60" cy="248.40" rx="1.9" ry="1.6" fill="#fff" stroke="#000" stroke-width="1.0"/>
<ellipse cx="58.20" cy="255.00" rx="1.9" ry="1.6" fill="#fff" stroke="#000" stroke-width="1.0"/>
<ellipse cx="58.00" cy="261.20" rx="1.9" ry="1.6" fill="#fff" stroke="#000" stroke-width="1.0"/>
<ellipse cx="58.60" cy="266.40" rx="1.9" ry="1.6" fill="#fff" stroke="#000" stroke-width="1.0"/>
<ellipse cx="58.20" cy="272.40" rx="1.9" ry="1.6" fill="#fff" stroke="#000" stroke-width="1.0"/>
<ellipse cx="58.00" cy="285.40" rx="1.9" ry="1.6" fill="#fff" stroke="#000" stroke-width="1.0"/>
<ellipse cx="76.40" cy="244.60" rx="1.9" ry="1.6" fill="#fff" stroke="#000" stroke-width="1.0"/>
<ellipse cx="75.60" cy="253.00" rx="1.9" ry="1.6" fill="#fff" stroke="#000" stroke-width="1.0"/>
<ellipse cx="75.20" cy="256.00" rx="1.9" ry="1.6" fill="#fff" stroke="#000" stroke-width="1.0"/>
<ellipse cx="76.00" cy="258.20" rx="1.9" ry="1.6" fill="#fff" stroke="#000" stroke-width="1.0"/>
<ellipse cx="76.40" cy="263.00" rx="1.9" ry="1.6" fill="#fff" stroke="#000" stroke-width="1.0"/>
<ellipse cx="75.60" cy="266.00" rx="1.9" ry="1.6" fill="#fff" stroke="#000" stroke-width="1.0"/>
<ellipse cx="76.00" cy="269.00" rx="1.9" ry="1.6" fill="#fff" stroke="#000" stroke-width="1.0"/>
<ellipse cx="75.00" cy="273.00" rx="1.9" ry="1.6" fill="#fff" stroke="#000" stroke-width="1.0"/>
<ellipse cx="76.80" cy="278.00" rx="1.9" ry="1.6" fill="#fff" stroke="#000" stroke-width="1.0"/>
<ellipse cx="75.60" cy="280.40" rx="1.9" ry="1.6" fill="#fff" stroke="#000" stroke-width="1.0"/>
<ellipse cx="76.00" cy="284.00" rx="1.9" ry="1.6" fill="#fff" stroke="#000" stroke-width="1.0"/>
<ellipse cx="88.00" cy="263.00" rx="1.9" ry="1.6" fill="#fff" stroke="#000" stroke-width="1.0"/>
<ellipse cx="87.40" cy="266.00" rx="1.9" ry="1.6" fill="#fff" stroke="#000" stroke-width="1.0"/>
<ellipse cx="88.80" cy="274.60" rx="1.9" ry="1.6" fill="#fff" stroke="#000" stroke-width="1.0"/>
<ellipse cx="88.00" cy="278.00" rx="1.9" ry="1.6" fill="#fff" stroke="#000" stroke-width="1.0"/>
<ellipse cx="87.40" cy="286.00" rx="1.9" ry="1.6" fill="#fff" stroke="#000" stroke-width="1.0"/>
<ellipse cx="105.40" cy="204.40" rx="1.9" ry="1.6" fill="#fff" stroke="#000" stroke-width="1.0"/>
<ellipse cx="105.60" cy="219.00" rx="1.9" ry="1.6" fill="#fff" stroke="#000" stroke-width="1.0"/>
<ellipse cx="105.00" cy="222.00" rx="1.9" ry="1.6" fill="#fff" stroke="#000" stroke-width="1.0"/>
<ellipse cx="106.60" cy="225.60" rx="1.9" ry="1.6" fill="#fff" stroke="#000" stroke-width="1.0"/>
<ellipse cx="106.00" cy="231.00" rx="1.9" ry="1.6" fill="#fff" stroke="#000" stroke-width="1.0"/>
<ellipse cx="105.60" cy="244.00" rx="1.9" ry="1.6" fill="#fff" stroke="#000" stroke-width="1.0"/>
<ellipse cx="105.00" cy="252.40" rx="1.9" ry="1.6" fill="#fff" stroke="#000" stroke-width="1.0"/>
<ellipse cx="106.60" cy="258.00" rx="1.9" ry="1.6" fill="#fff" stroke="#000" stroke-width="1.0"/>
<ellipse cx="106.60" cy="264.00" rx="1.9" ry="1.6" fill="#fff" stroke="#000" stroke-width="1.0"/>
<ellipse cx="105.00" cy="268.00" rx="1.9" ry="1.6" fill="#fff" stroke="#000" stroke-width="1.0"/>
<ellipse cx="105.60" cy="273.00" rx="1.9" ry="1.6" fill="#fff" stroke="#000" stroke-width="1.0"/>
<ellipse cx="105.00" cy="276.00" rx="1.9" ry="1.6" fill="#fff" stroke="#000" stroke-width="1.0"/>
<ellipse cx="105.60" cy="281.00" rx="1.9" ry="1.6" fill="#fff" stroke="#000" stroke-width="1.0"/>
<ellipse cx="118.00" cy="265.00" rx="1.9" ry="1.6" fill="#fff" stroke="#000" stroke-width="1.0"/>
<ellipse cx="117.00" cy="269.00" rx="1.9" ry="1.6" fill="#fff" stroke="#000" stroke-width="1.0"/>
<ellipse cx="117.00" cy="282.00" rx="1.9" ry="1.6" fill="#fff" stroke="#000" stroke-width="1.0"/>
<ellipse cx="118.00" cy="285.00" rx="1.9" ry="1.6" fill="#fff" stroke="#000" stroke-width="1.0"/>
<ellipse cx="117.40" cy="288.00" rx="1.9" ry="1.6" fill="#fff" stroke="#000" stroke-width="1.0"/>
<ellipse cx="117.00" cy="291.00" rx="1.9" ry="1.6" fill="#fff" stroke="#000" stroke-width="1.0"/>
<ellipse cx="134.60" cy="249.60" rx="1.9" ry="1.6" fill="#fff" stroke="#000" stroke-width="1.0"/>
<ellipse cx="135.00" cy="252.40" rx="1.9" ry="1.6" fill="#fff" stroke="#000" stroke-width="1.0"/>
<ellipse cx="134.60" cy="255.00" rx="1.9" ry="1.6" fill="#fff" stroke="#000" stroke-width="1.0"/>
<ellipse cx="135.40" cy="258.00" rx="1.9" ry="1.6" fill="#fff" stroke="#000" stroke-width="1.0"/>
<ellipse cx="134.00" cy="261.60" rx="1.9" ry="1.6" fill="#fff" stroke="#000" stroke-width="1.0"/>
<ellipse cx="135.40" cy="265.00" rx="1.9" ry="1.6" fill="#fff" stroke="#000" stroke-width="1.0"/>
<ellipse cx="135.00" cy="267.00" rx="1.9" ry="1.6" fill="#fff" stroke="#000" stroke-width="1.0"/>
<ellipse cx="134.60" cy="271.00" rx="1.9" ry="1.6" fill="#fff" stroke="#000" stroke-width="1.0"/>
<ellipse cx="135.40" cy="276.00" rx="1.9" ry="1.6" fill="#fff" stroke="#000" stroke-width="1.0"/>
<ellipse cx="134.60" cy="284.00" rx="1.9" ry="1.6" fill="#fff" stroke="#000" stroke-width="1.0"/>
<ellipse cx="135.40" cy="288.00" rx="1.9" ry="1.6" fill="#fff" stroke="#000" stroke-width="1.0"/>
<ellipse cx="147.00" cy="265.00" rx="1.9" ry="1.6" fill="#fff" stroke="#000" stroke-width="1.0"/>
<ellipse cx="146.00" cy="268.00" rx="1.9" ry="1.6" fill="#fff" stroke="#000" stroke-width="1.0"/>
<ellipse cx="147.00" cy="283.00" rx="1.9" ry="1.6" fill="#fff" stroke="#000" stroke-width="1.0"/>
<ellipse cx="147.00" cy="286.00" rx="1.9" ry="1.6" fill="#fff" stroke="#000" stroke-width="1.0"/>
<ellipse cx="147.40" cy="289.00" rx="1.9" ry="1.6" fill="#fff" stroke="#000" stroke-width="1.0"/>
<line x1="46.50" y1="249.96" x2="46.50" y2="254.70" stroke="#111" stroke-width="0.7"/>
<line x1="44.60" y1="249.96" x2="48.40" y2="249.96" stroke="#111" stroke-width="0.7"/>
<line x1="44.60" y1="254.70" x2="48.40" y2="254.70" stroke="#111" stroke-width="0.7"/>
<line x1="58.30" y1="257.41" x2="58.30" y2="264.18" stroke="#111" stroke-width="0.7"/>
<line x1="56.40" y1="257.41" x2="60.20" y2="257.41" stroke="#111" stroke-width="0.7"/>
<line x1="56.40" y1="264.18" x2="60.20" y2="264.18" stroke="#111" stroke-width="0.7"/>
<line x1="75.50" y1="264.52" x2="75.50" y2="269.93" stroke="#111" stroke-width="0.7"/>
<line x1="73.60" y1="264.52" x2="77.40" y2="264.52" stroke="#111" stroke-width="0.7"/>
<line x1="73.60" y1="269.93" x2="77.40" y2="269.93" stroke="#111" stroke-width="0.7"/>
<line x1="87.70" y1="270.61" x2="87.70" y2="276.02" stroke="#111" stroke-width="0.7"/>
<line x1="85.80" y1="270.61" x2="89.60" y2="270.61" stroke="#111" stroke-width="0.7"/>
<line x1="85.80" y1="276.02" x2="89.60" y2="276.02" stroke="#111" stroke-width="0.7"/>
<line x1="105.50" y1="248.27" x2="105.50" y2="257.75" stroke="#111" stroke-width="0.7"/>
<line x1="103.60" y1="248.27" x2="107.40" y2="248.27" stroke="#111" stroke-width="0.7"/>
<line x1="103.60" y1="257.75" x2="107.40" y2="257.75" stroke="#111" stroke-width="0.7"/>
<line x1="117.50" y1="276.70" x2="117.50" y2="284.82" stroke="#111" stroke-width="0.7"/>
<line x1="115.60" y1="276.70" x2="119.40" y2="276.70" stroke="#111" stroke-width="0.7"/>
<line x1="115.60" y1="284.82" x2="119.40" y2="284.82" stroke="#111" stroke-width="0.7"/>
<line x1="135.00" y1="266.55" x2="135.00" y2="271.96" stroke="#111" stroke-width="0.7"/>
<line x1="133.10" y1="266.55" x2="136.90" y2="266.55" stroke="#111" stroke-width="0.7"/>
<line x1="133.10" y1="271.96" x2="136.90" y2="271.96" stroke="#111" stroke-width="0.7"/>
<line x1="147.00" y1="278.73" x2="147.00" y2="286.85" stroke="#111" stroke-width="0.7"/>
<line x1="145.10" y1="278.73" x2="148.90" y2="278.73" stroke="#111" stroke-width="0.7"/>
<line x1="145.10" y1="286.85" x2="148.90" y2="286.85" stroke="#111" stroke-width="0.7"/>
<line x1="43.6" y1="213" x2="58" y2="213" stroke="#333" stroke-width="1"/>
<text x="43.6" y="208.6" font-size="7.00" fill="#000" stroke="#000" stroke-width="0.12" textLength="15.40" lengthAdjust="spacingAndGlyphs" style="font-weight:bold">N.S.</text>
<line x1="75.9" y1="238.2" x2="90.6" y2="238.2" stroke="#333" stroke-width="1"/>
<text x="76.7" y="233.9" font-size="7.00" fill="#000" stroke="#000" stroke-width="0.12" textLength="14.40" lengthAdjust="spacingAndGlyphs" style="font-weight:bold">N.S.</text>
<text x="114" y="258.58500000000004" font-size="10.50" fill="#000" stroke="#000" stroke-width="0.12" textLength="4.40" lengthAdjust="spacingAndGlyphs" style="font-weight:bold">*</text>
<text x="144.6" y="257.185" font-size="10.50" fill="#000" stroke="#000" stroke-width="0.12" textLength="4.40" lengthAdjust="spacingAndGlyphs" style="font-weight:bold">*</text>
<text x="46.2" y="306.2" font-size="7.80" fill="#000" stroke="#000" stroke-width="0.12" textLength="41.20" lengthAdjust="spacingAndGlyphs" style="font-weight:bold">1-week-old</text>
<text x="105" y="306.2" font-size="7.80" fill="#000" stroke="#000" stroke-width="0.12" textLength="41.60" lengthAdjust="spacingAndGlyphs" style="font-weight:bold">2-week-old</text>
<rect x="193.10" y="158.50" width="4.6" height="4.5" fill="#fff" stroke="#111" stroke-width="1.0"/>
<rect x="193.10" y="168.20" width="4.6" height="4.6" fill="#EC6E1E" stroke="#2a1a0a" stroke-width="1.0"/>
<text x="202.5" y="163.6" font-size="7.40" fill="#000" stroke="#000" stroke-width="0.12" textLength="30.20" lengthAdjust="spacingAndGlyphs" style="font-weight:bold;font-style:italic">Slc7a5<tspan font-size="5.2" dy="-3.0">fl/fl</tspan></text>
<text x="202.5" y="173.29999999999998" font-size="7.40" fill="#000" stroke="#000" stroke-width="0.12" textLength="62.00" lengthAdjust="spacingAndGlyphs" style="font-weight:bold;font-style:italic">Synl-Cre;Slc7a5<tspan font-size="5.2" dy="-3.0">fl/fl</tspan></text>
<line x1="206.0" y1="186.4" x2="206.0" y2="294.4" stroke="#aaa" stroke-width="1"/>
<line x1="203.8" y1="294.4" x2="335" y2="294.4" stroke="#444" stroke-width="1"/>
<line x1="203.8" y1="294.40" x2="206.0" y2="294.40" stroke="#aaa" stroke-width="1"/>
<text x="194.4" y="297.79999999999995" font-size="10.25" fill="#333333" stroke="#333333" stroke-width="0.08" textLength="4.60" lengthAdjust="spacingAndGlyphs" style="">0</text>
<line x1="203.8" y1="272.80" x2="206.0" y2="272.80" stroke="#aaa" stroke-width="1"/>
<text x="194.4" y="276.19999999999993" font-size="10.25" fill="#333333" stroke="#333333" stroke-width="0.08" textLength="4.60" lengthAdjust="spacingAndGlyphs" style="">2</text>
<line x1="203.8" y1="251.20" x2="206.0" y2="251.20" stroke="#aaa" stroke-width="1"/>
<text x="194.4" y="254.6" font-size="10.25" fill="#333333" stroke="#333333" stroke-width="0.08" textLength="4.60" lengthAdjust="spacingAndGlyphs" style="">4</text>
<line x1="203.8" y1="229.60" x2="206.0" y2="229.60" stroke="#aaa" stroke-width="1"/>
<text x="194.4" y="233.0" font-size="10.25" fill="#333333" stroke="#333333" stroke-width="0.08" textLength="4.60" lengthAdjust="spacingAndGlyphs" style="">6</text>
<line x1="203.8" y1="208.00" x2="206.0" y2="208.00" stroke="#aaa" stroke-width="1"/>
<text x="194.4" y="211.4" font-size="10.25" fill="#333333" stroke="#333333" stroke-width="0.08" textLength="4.60" lengthAdjust="spacingAndGlyphs" style="">8</text>
<line x1="203.8" y1="186.40" x2="206.0" y2="186.40" stroke="#aaa" stroke-width="1"/>
<text x="190.2" y="189.8" font-size="10.25" fill="#333333" stroke="#333333" stroke-width="0.08" textLength="8.80" lengthAdjust="spacingAndGlyphs" style="">10</text>
<text x="0" y="0" font-size="8.969999999999999" fill="#000" text-anchor="middle" textLength="61.30" lengthAdjust="spacingAndGlyphs" stroke="#000" stroke-width="0.12" style="font-weight:bold" transform="translate(184.53 239.65) rotate(-90)">Number of pulls</text>
<rect x="214.40" y="249.58" width="8.40" height="44.82" fill="#fff" stroke="#333" stroke-width="0.9"/>
<rect x="226.60" y="264.70" width="8.40" height="29.70" fill="#E8771F" stroke="#5a3a1a" stroke-width="0.9"/>
<rect x="244.40" y="269.56" width="8.60" height="24.84" fill="#fff" stroke="#333" stroke-width="0.9" stroke-dasharray="2 1.3"/>
<rect x="257.00" y="277.66" width="8.40" height="16.74" fill="#E8771F" stroke="#5a3a1a" stroke-width="0.9" stroke-dasharray="2 1.3"/>
<rect x="275.40" y="255.52" width="9.00" height="38.88" fill="#fff" stroke="#333" stroke-width="0.9"/>
<rect x="288.00" y="288.46" width="8.60" height="5.94" fill="#E8771F" stroke="#5a3a1a" stroke-width="0.9"/>
<rect x="306.60" y="267.40" width="8.40" height="27.00" fill="#fff" stroke="#333" stroke-width="0.9" stroke-dasharray="2 1.3"/>
<rect x="319.00" y="289.00" width="8.40" height="5.40" fill="#E8771F" stroke="#5a3a1a" stroke-width="0.9" stroke-dasharray="2 1.3"/>
<ellipse cx="218.40" cy="197.20" rx="2.0" ry="1.65" fill="#fff" stroke="#000" stroke-width="1.0"/>
<ellipse cx="218.60" cy="208.00" rx="2.0" ry="1.65" fill="#fff" stroke="#000" stroke-width="1.0"/>
<ellipse cx="218.60" cy="218.80" rx="2.0" ry="1.65" fill="#fff" stroke="#000" stroke-width="1.0"/>
<ellipse cx="218.60" cy="229.60" rx="2.0" ry="1.65" fill="#fff" stroke="#000" stroke-width="1.0"/>
<ellipse cx="218.60" cy="240.40" rx="2.0" ry="1.65" fill="#fff" stroke="#000" stroke-width="1.0"/>
<ellipse cx="218.60" cy="251.20" rx="2.0" ry="1.65" fill="#fff" stroke="#000" stroke-width="1.0"/>
<ellipse cx="218.60" cy="262.00" rx="2.0" ry="1.65" fill="#fff" stroke="#000" stroke-width="1.0"/>
<ellipse cx="218.60" cy="272.80" rx="2.0" ry="1.65" fill="#fff" stroke="#000" stroke-width="1.0"/>
<ellipse cx="218.60" cy="283.60" rx="2.0" ry="1.65" fill="#fff" stroke="#000" stroke-width="1.0"/>
<ellipse cx="230.40" cy="218.80" rx="2.0" ry="1.65" fill="#fff" stroke="#000" stroke-width="1.0"/>
<ellipse cx="230.60" cy="251.20" rx="2.0" ry="1.65" fill="#fff" stroke="#000" stroke-width="1.0"/>
<ellipse cx="230.60" cy="262.00" rx="2.0" ry="1.65" fill="#fff" stroke="#000" stroke-width="1.0"/>
<ellipse cx="230.60" cy="272.80" rx="2.0" ry="1.65" fill="#fff" stroke="#000" stroke-width="1.0"/>
<ellipse cx="230.60" cy="283.60" rx="2.0" ry="1.65" fill="#fff" stroke="#000" stroke-width="1.0"/>
<ellipse cx="248.40" cy="229.60" rx="2.0" ry="1.65" fill="#fff" stroke="#000" stroke-width="1.0"/>
<ellipse cx="248.40" cy="240.40" rx="2.0" ry="1.65" fill="#fff" stroke="#000" stroke-width="1.0"/>
<ellipse cx="248.60" cy="251.20" rx="2.0" ry="1.65" fill="#fff" stroke="#000" stroke-width="1.0"/>
<ellipse cx="248.60" cy="262.00" rx="2.0" ry="1.65" fill="#fff" stroke="#000" stroke-width="1.0"/>
<ellipse cx="248.60" cy="272.80" rx="2.0" ry="1.65" fill="#fff" stroke="#000" stroke-width="1.0"/>
<ellipse cx="248.60" cy="283.60" rx="2.0" ry="1.65" fill="#fff" stroke="#000" stroke-width="1.0"/>
<ellipse cx="248.60" cy="294.40" rx="2.0" ry="1.65" fill="#fff" stroke="#000" stroke-width="1.0"/>
<ellipse cx="261.00" cy="251.20" rx="2.0" ry="1.65" fill="#fff" stroke="#000" stroke-width="1.0"/>
<ellipse cx="261.20" cy="272.80" rx="2.0" ry="1.65" fill="#fff" stroke="#000" stroke-width="1.0"/>
<ellipse cx="261.20" cy="283.60" rx="2.0" ry="1.65" fill="#fff" stroke="#000" stroke-width="1.0"/>
<ellipse cx="261.20" cy="294.40" rx="2.0" ry="1.65" fill="#fff" stroke="#000" stroke-width="1.0"/>
<ellipse cx="280.00" cy="208.00" rx="2.0" ry="1.65" fill="#fff" stroke="#000" stroke-width="1.0"/>
<ellipse cx="280.00" cy="218.80" rx="2.0" ry="1.65" fill="#fff" stroke="#000" stroke-width="1.0"/>
<ellipse cx="280.00" cy="240.40" rx="2.0" ry="1.65" fill="#fff" stroke="#000" stroke-width="1.0"/>
<ellipse cx="280.00" cy="251.20" rx="2.0" ry="1.65" fill="#fff" stroke="#000" stroke-width="1.0"/>
<ellipse cx="280.00" cy="262.00" rx="2.0" ry="1.65" fill="#fff" stroke="#000" stroke-width="1.0"/>
<ellipse cx="280.00" cy="272.80" rx="2.0" ry="1.65" fill="#fff" stroke="#000" stroke-width="1.0"/>
<ellipse cx="280.00" cy="283.60" rx="2.0" ry="1.65" fill="#fff" stroke="#000" stroke-width="1.0"/>
<ellipse cx="291.60" cy="272.80" rx="2.0" ry="1.65" fill="#fff" stroke="#000" stroke-width="1.0"/>
<ellipse cx="291.60" cy="283.60" rx="2.0" ry="1.65" fill="#fff" stroke="#000" stroke-width="1.0"/>
<ellipse cx="291.60" cy="294.40" rx="2.0" ry="1.65" fill="#fff" stroke="#000" stroke-width="1.0"/>
<ellipse cx="310.40" cy="218.80" rx="2.0" ry="1.65" fill="#fff" stroke="#000" stroke-width="1.0"/>
<ellipse cx="310.60" cy="240.40" rx="2.0" ry="1.65" fill="#fff" stroke="#000" stroke-width="1.0"/>
<ellipse cx="310.60" cy="251.20" rx="2.0" ry="1.65" fill="#fff" stroke="#000" stroke-width="1.0"/>
<ellipse cx="310.60" cy="262.00" rx="2.0" ry="1.65" fill="#fff" stroke="#000" stroke-width="1.0"/>
<ellipse cx="310.60" cy="272.80" rx="2.0" ry="1.65" fill="#fff" stroke="#000" stroke-width="1.0"/>
<ellipse cx="310.60" cy="283.60" rx="2.0" ry="1.65" fill="#fff" stroke="#000" stroke-width="1.0"/>
<ellipse cx="310.60" cy="294.40" rx="2.0" ry="1.65" fill="#fff" stroke="#000" stroke-width="1.0"/>
<ellipse cx="323.00" cy="272.80" rx="2.0" ry="1.65" fill="#fff" stroke="#000" stroke-width="1.0"/>
<ellipse cx="323.00" cy="294.40" rx="2.0" ry="1.65" fill="#fff" stroke="#000" stroke-width="1.0"/>
<line x1="218.60" y1="244.72" x2="218.60" y2="254.44" stroke="#111" stroke-width="0.7"/>
<line x1="216.70" y1="244.72" x2="220.50" y2="244.72" stroke="#111" stroke-width="0.7"/>
<line x1="216.70" y1="254.44" x2="220.50" y2="254.44" stroke="#111" stroke-width="0.7"/>
<line x1="230.80" y1="256.06" x2="230.80" y2="273.34" stroke="#111" stroke-width="0.7"/>
<line x1="228.90" y1="256.06" x2="232.70" y2="256.06" stroke="#111" stroke-width="0.7"/>
<line x1="228.90" y1="273.34" x2="232.70" y2="273.34" stroke="#111" stroke-width="0.7"/>
<line x1="248.70" y1="264.70" x2="248.70" y2="274.42" stroke="#111" stroke-width="0.7"/>
<line x1="246.80" y1="264.70" x2="250.60" y2="264.70" stroke="#111" stroke-width="0.7"/>
<line x1="246.80" y1="274.42" x2="250.60" y2="274.42" stroke="#111" stroke-width="0.7"/>
<line x1="261.20" y1="272.80" x2="261.20" y2="282.52" stroke="#111" stroke-width="0.7"/>
<line x1="259.30" y1="272.80" x2="263.10" y2="272.80" stroke="#111" stroke-width="0.7"/>
<line x1="259.30" y1="282.52" x2="263.10" y2="282.52" stroke="#111" stroke-width="0.7"/>
<line x1="279.90" y1="250.66" x2="279.90" y2="260.38" stroke="#111" stroke-width="0.7"/>
<line x1="278.00" y1="250.66" x2="281.80" y2="250.66" stroke="#111" stroke-width="0.7"/>
<line x1="278.00" y1="260.38" x2="281.80" y2="260.38" stroke="#111" stroke-width="0.7"/>
<line x1="292.30" y1="285.22" x2="292.30" y2="291.70" stroke="#111" stroke-width="0.7"/>
<line x1="290.40" y1="285.22" x2="294.20" y2="285.22" stroke="#111" stroke-width="0.7"/>
<line x1="290.40" y1="291.70" x2="294.20" y2="291.70" stroke="#111" stroke-width="0.7"/>
<line x1="310.80" y1="262.54" x2="310.80" y2="272.26" stroke="#111" stroke-width="0.7"/>
<line x1="308.90" y1="262.54" x2="312.70" y2="262.54" stroke="#111" stroke-width="0.7"/>
<line x1="308.90" y1="272.26" x2="312.70" y2="272.26" stroke="#111" stroke-width="0.7"/>
<line x1="323.20" y1="285.22" x2="323.20" y2="292.78" stroke="#111" stroke-width="0.7"/>
<line x1="321.30" y1="285.22" x2="325.10" y2="285.22" stroke="#111" stroke-width="0.7"/>
<line x1="321.30" y1="292.78" x2="325.10" y2="292.78" stroke="#111" stroke-width="0.7"/>
<line x1="215.6" y1="190" x2="230.4" y2="190" stroke="#333" stroke-width="1"/>
<text x="215.6" y="186" font-size="7.00" fill="#000" stroke="#000" stroke-width="0.12" textLength="15.00" lengthAdjust="spacingAndGlyphs" style="font-weight:bold">N.S.</text>
<line x1="244" y1="222.6" x2="258.6" y2="222.6" stroke="#333" stroke-width="1"/>
<text x="248.4" y="218.6" font-size="7.00" fill="#000" stroke="#000" stroke-width="0.12" textLength="14.60" lengthAdjust="spacingAndGlyphs" style="font-weight:bold">N.S.</text>
<text x="285.6" y="269.58500000000004" font-size="10.50" fill="#000" stroke="#000" stroke-width="0.12" textLength="12.00" lengthAdjust="spacingAndGlyphs" style="font-weight:bold">***</text>
<text x="320.4" y="267.985" font-size="10.50" fill="#000" stroke="#000" stroke-width="0.12" textLength="4.20" lengthAdjust="spacingAndGlyphs" style="font-weight:bold">*</text>
<text x="219.6" y="306.2" font-size="7.80" fill="#000" stroke="#000" stroke-width="0.12" textLength="42.00" lengthAdjust="spacingAndGlyphs" style="font-weight:bold">1-week-old</text>
<text x="281" y="306.2" font-size="7.80" fill="#000" stroke="#000" stroke-width="0.12" textLength="41.00" lengthAdjust="spacingAndGlyphs" style="font-weight:bold">2-week-old</text>
<rect x="362.10" y="158.50" width="4.6" height="4.5" fill="#fff" stroke="#111" stroke-width="1.0"/>
<rect x="362.10" y="168.20" width="4.6" height="4.6" fill="#EC6E1E" stroke="#2a1a0a" stroke-width="1.0"/>
<text x="371.9" y="163.6" font-size="7.40" fill="#000" stroke="#000" stroke-width="0.12" textLength="30.20" lengthAdjust="spacingAndGlyphs" style="font-weight:bold;font-style:italic">Slc7a5<tspan font-size="5.2" dy="-3.0">fl/fl</tspan></text>
<text x="371.9" y="173.29999999999998" font-size="7.40" fill="#000" stroke="#000" stroke-width="0.12" textLength="62.00" lengthAdjust="spacingAndGlyphs" style="font-weight:bold;font-style:italic">Synl-Cre;Slc7a5<tspan font-size="5.2" dy="-3.0">fl/fl</tspan></text>
<line x1="374.0" y1="183.4" x2="374.0" y2="293.4" stroke="#aaa" stroke-width="1"/>
<line x1="371.8" y1="293.4" x2="508" y2="293.4" stroke="#444" stroke-width="1"/>
<line x1="371.8" y1="293.40" x2="374.0" y2="293.40" stroke="#aaa" stroke-width="1"/>
<text x="362.79999999999995" y="296.79999999999995" font-size="10.50" fill="#333333" stroke="#333333" stroke-width="0.08" textLength="4.60" lengthAdjust="spacingAndGlyphs" style="">0</text>
<line x1="371.8" y1="271.40" x2="374.0" y2="271.40" stroke="#aaa" stroke-width="1"/>
<text x="362.79999999999995" y="274.79999999999995" font-size="10.50" fill="#333333" stroke="#333333" stroke-width="0.08" textLength="4.60" lengthAdjust="spacingAndGlyphs" style="">1</text>
<line x1="371.8" y1="249.40" x2="374.0" y2="249.40" stroke="#aaa" stroke-width="1"/>
<text x="362.79999999999995" y="252.79999999999998" font-size="10.50" fill="#333333" stroke="#333333" stroke-width="0.08" textLength="4.60" lengthAdjust="spacingAndGlyphs" style="">2</text>
<line x1="371.8" y1="227.40" x2="374.0" y2="227.40" stroke="#aaa" stroke-width="1"/>
<text x="362.79999999999995" y="230.8" font-size="10.50" fill="#333333" stroke="#333333" stroke-width="0.08" textLength="4.60" lengthAdjust="spacingAndGlyphs" style="">3</text>
<line x1="371.8" y1="205.40" x2="374.0" y2="205.40" stroke="#aaa" stroke-width="1"/>
<text x="362.79999999999995" y="208.8" font-size="10.50" fill="#333333" stroke="#333333" stroke-width="0.08" textLength="4.60" lengthAdjust="spacingAndGlyphs" style="">4</text>
<line x1="371.8" y1="183.40" x2="374.0" y2="183.40" stroke="#aaa" stroke-width="1"/>
<text x="362.79999999999995" y="186.8" font-size="10.50" fill="#333333" stroke="#333333" stroke-width="0.08" textLength="4.60" lengthAdjust="spacingAndGlyphs" style="">5</text>
<text x="0" y="0" font-size="8.969999999999999" fill="#000" text-anchor="middle" textLength="58.40" lengthAdjust="spacingAndGlyphs" stroke="#000" stroke-width="0.12" style="font-weight:bold" transform="translate(349.63 238.20) rotate(-90)">Hindlimb score</text>
<rect x="390.40" y="208.26" width="17.00" height="85.14" fill="#fff" stroke="#333" stroke-width="0.9"/>
<rect x="415.40" y="212.00" width="17.20" height="81.40" fill="#E8771F" stroke="#5a3a1a" stroke-width="0.9"/>
<rect x="452.00" y="208.70" width="17.40" height="84.70" fill="#fff" stroke="#333" stroke-width="0.9"/>
<rect x="477.00" y="287.02" width="18.00" height="6.38" fill="#E8771F" stroke="#5a3a1a" stroke-width="0.9"/>
<ellipse cx="392.60" cy="205.40" rx="2.2" ry="1.8" fill="#fff" stroke="#000" stroke-width="1.0"/>
<ellipse cx="395.00" cy="205.40" rx="2.2" ry="1.8" fill="#fff" stroke="#000" stroke-width="1.0"/>
<ellipse cx="397.40" cy="205.40" rx="2.2" ry="1.8" fill="#fff" stroke="#000" stroke-width="1.0"/>
<ellipse cx="399.80" cy="205.40" rx="2.2" ry="1.8" fill="#fff" stroke="#000" stroke-width="1.0"/>
<ellipse cx="402.20" cy="205.40" rx="2.2" ry="1.8" fill="#fff" stroke="#000" stroke-width="1.0"/>
<ellipse cx="404.60" cy="205.40" rx="2.2" ry="1.8" fill="#fff" stroke="#000" stroke-width="1.0"/>
<ellipse cx="396.40" cy="227.40" rx="2.2" ry="1.8" fill="#fff" stroke="#000" stroke-width="1.0"/>
<ellipse cx="401.40" cy="227.40" rx="2.2" ry="1.8" fill="#fff" stroke="#000" stroke-width="1.0"/>
<ellipse cx="420.60" cy="205.40" rx="2.2" ry="1.8" fill="#fff" stroke="#000" stroke-width="1.0"/>
<ellipse cx="428.00" cy="205.40" rx="2.2" ry="1.8" fill="#fff" stroke="#000" stroke-width="1.0"/>
<ellipse cx="420.00" cy="227.40" rx="2.2" ry="1.8" fill="#fff" stroke="#000" stroke-width="1.0"/>
<ellipse cx="425.60" cy="227.40" rx="2.2" ry="1.8" fill="#fff" stroke="#000" stroke-width="1.0"/>
<ellipse cx="454.00" cy="205.40" rx="2.2" ry="1.8" fill="#fff" stroke="#000" stroke-width="1.0"/>
<ellipse cx="456.40" cy="205.40" rx="2.2" ry="1.8" fill="#fff" stroke="#000" stroke-width="1.0"/>
<ellipse cx="458.80" cy="205.40" rx="2.2" ry="1.8" fill="#fff" stroke="#000" stroke-width="1.0"/>
<ellipse cx="461.20" cy="205.40" rx="2.2" ry="1.8" fill="#fff" stroke="#000" stroke-width="1.0"/>
<ellipse cx="463.60" cy="205.40" rx="2.2" ry="1.8" fill="#fff" stroke="#000" stroke-width="1.0"/>
<ellipse cx="466.00" cy="205.40" rx="2.2" ry="1.8" fill="#fff" stroke="#000" stroke-width="1.0"/>
<ellipse cx="456.00" cy="227.40" rx="2.2" ry="1.8" fill="#fff" stroke="#000" stroke-width="1.0"/>
<ellipse cx="460.40" cy="249.40" rx="2.2" ry="1.8" fill="#fff" stroke="#000" stroke-width="1.0"/>
<ellipse cx="490.00" cy="249.40" rx="2.2" ry="1.8" fill="#fff" stroke="#000" stroke-width="1.0"/>
<ellipse cx="480.40" cy="293.40" rx="2.2" ry="1.8" fill="#fff" stroke="#000" stroke-width="1.0"/>
<ellipse cx="482.80" cy="293.40" rx="2.2" ry="1.8" fill="#fff" stroke="#000" stroke-width="1.0"/>
<ellipse cx="485.20" cy="293.40" rx="2.2" ry="1.8" fill="#fff" stroke="#000" stroke-width="1.0"/>
<ellipse cx="487.60" cy="293.40" rx="2.2" ry="1.8" fill="#fff" stroke="#000" stroke-width="1.0"/>
<ellipse cx="490.00" cy="293.40" rx="2.2" ry="1.8" fill="#fff" stroke="#000" stroke-width="1.0"/>
<line x1="398.90" y1="206.06" x2="398.90" y2="210.46" stroke="#111" stroke-width="0.7"/>
<line x1="397.00" y1="206.06" x2="400.80" y2="206.06" stroke="#111" stroke-width="0.7"/>
<line x1="397.00" y1="210.46" x2="400.80" y2="210.46" stroke="#111" stroke-width="0.7"/>
<line x1="424.00" y1="205.40" x2="424.00" y2="218.60" stroke="#111" stroke-width="0.7"/>
<line x1="422.10" y1="205.40" x2="425.90" y2="205.40" stroke="#111" stroke-width="0.7"/>
<line x1="422.10" y1="218.60" x2="425.90" y2="218.60" stroke="#111" stroke-width="0.7"/>
<line x1="460.70" y1="206.06" x2="460.70" y2="211.34" stroke="#111" stroke-width="0.7"/>
<line x1="458.80" y1="206.06" x2="462.60" y2="206.06" stroke="#111" stroke-width="0.7"/>
<line x1="458.80" y1="211.34" x2="462.60" y2="211.34" stroke="#111" stroke-width="0.7"/>
<line x1="486.00" y1="280.64" x2="486.00" y2="293.40" stroke="#111" stroke-width="0.7"/>
<line x1="484.10" y1="280.64" x2="487.90" y2="280.64" stroke="#111" stroke-width="0.7"/>
<line x1="484.10" y1="293.40" x2="487.90" y2="293.40" stroke="#111" stroke-width="0.7"/>
<line x1="399" y1="193.4" x2="424" y2="193.4" stroke="#333" stroke-width="1"/>
<text x="405" y="190" font-size="7.00" fill="#000" stroke="#000" stroke-width="0.12" textLength="15.60" lengthAdjust="spacingAndGlyphs" style="font-weight:bold">N.S.</text>
<text x="479" y="277.58500000000004" font-size="10.50" fill="#000" stroke="#000" stroke-width="0.12" textLength="12.40" lengthAdjust="spacingAndGlyphs" style="font-weight:bold">***</text>
<text x="390.8" y="304.6" font-size="7.80" fill="#000" stroke="#000" stroke-width="0.12" textLength="41.20" lengthAdjust="spacingAndGlyphs" style="font-weight:bold">1-week-old</text>
<text x="452" y="304.6" font-size="7.80" fill="#000" stroke="#000" stroke-width="0.12" textLength="41.00" lengthAdjust="spacingAndGlyphs" style="font-weight:bold">2-week-old</text>
<rect x="536.70" y="158.90" width="4.6" height="4.5" fill="#fff" stroke="#111" stroke-width="1.0"/>
<rect x="536.70" y="168.60" width="4.6" height="4.6" fill="#EC6E1E" stroke="#2a1a0a" stroke-width="1.0"/>
<text x="546.7" y="163.8" font-size="7.40" fill="#000" stroke="#000" stroke-width="0.12" textLength="30.20" lengthAdjust="spacingAndGlyphs" style="font-weight:bold;font-style:italic">Slc7a5<tspan font-size="5.2" dy="-3.0">fl/fl</tspan></text>
<text x="546.7" y="173.5" font-size="7.40" fill="#000" stroke="#000" stroke-width="0.12" textLength="62.00" lengthAdjust="spacingAndGlyphs" style="font-weight:bold;font-style:italic">Synl-Cre;Slc7a5<tspan font-size="5.2" dy="-3.0">fl/fl</tspan></text>
<line x1="557.5" y1="183.0" x2="557.5" y2="293.4" stroke="#333" stroke-width="1"/>
<line x1="555.3" y1="293.4" x2="685" y2="293.4" stroke="#444" stroke-width="1"/>
<line x1="555.3" y1="293.40" x2="557.5" y2="293.40" stroke="#333" stroke-width="1"/>
<text x="546.1999999999999" y="296.79999999999995" font-size="10.25" fill="#333333" stroke="#333333" stroke-width="0.08" textLength="4.60" lengthAdjust="spacingAndGlyphs" style="">0</text>
<line x1="555.3" y1="265.80" x2="557.5" y2="265.80" stroke="#333" stroke-width="1"/>
<text x="542.0" y="269.19999999999993" font-size="10.25" fill="#333333" stroke="#333333" stroke-width="0.08" textLength="8.80" lengthAdjust="spacingAndGlyphs" style="">50</text>
<line x1="555.3" y1="238.20" x2="557.5" y2="238.20" stroke="#333" stroke-width="1"/>
<text x="537.8" y="241.6" font-size="10.25" fill="#333333" stroke="#333333" stroke-width="0.08" textLength="13.00" lengthAdjust="spacingAndGlyphs" style="">100</text>
<line x1="555.3" y1="210.60" x2="557.5" y2="210.60" stroke="#333" stroke-width="1"/>
<text x="537.8" y="213.99999999999997" font-size="10.25" fill="#333333" stroke="#333333" stroke-width="0.08" textLength="13.00" lengthAdjust="spacingAndGlyphs" style="">150</text>
<line x1="555.3" y1="183.00" x2="557.5" y2="183.00" stroke="#333" stroke-width="1"/>
<text x="537.8" y="186.4" font-size="10.25" fill="#333333" stroke="#333333" stroke-width="0.08" textLength="13.00" lengthAdjust="spacingAndGlyphs" style="">200</text>
<text x="0" y="0" font-size="8.969999999999999" fill="#000" text-anchor="middle" textLength="115.10" lengthAdjust="spacingAndGlyphs" stroke="#000" stroke-width="0.12" style="font-weight:bold" transform="translate(525.13 238.15) rotate(-90)">Latency to upward  (seconds)</text>
<rect x="572.60" y="278.50" width="16.00" height="14.90" fill="#fff" stroke="#aaa" stroke-width="0.9"/>
<rect x="595.60" y="272.42" width="16.00" height="20.98" fill="#E8771F" stroke="#5a3a1a" stroke-width="0.9"/>
<rect x="630.40" y="277.39" width="16.00" height="16.01" fill="#fff" stroke="#aaa" stroke-width="0.9"/>
<rect x="653.60" y="228.26" width="16.00" height="65.14" fill="#E8771F" stroke="#5a3a1a" stroke-width="0.9"/>
<ellipse cx="583.60" cy="261.94" rx="2.2" ry="2.0" fill="#fff" stroke="#000" stroke-width="1.0"/>
<ellipse cx="580.00" cy="265.80" rx="2.2" ry="2.0" fill="#fff" stroke="#000" stroke-width="1.0"/>
<ellipse cx="575.40" cy="265.80" rx="2.2" ry="2.0" fill="#fff" stroke="#000" stroke-width="1.0"/>
<ellipse cx="578.80" cy="272.42" rx="2.2" ry="2.0" fill="#fff" stroke="#000" stroke-width="1.0"/>
<ellipse cx="575.40" cy="274.63" rx="2.2" ry="2.0" fill="#fff" stroke="#000" stroke-width="1.0"/>
<ellipse cx="583.40" cy="275.18" rx="2.2" ry="2.0" fill="#fff" stroke="#000" stroke-width="1.0"/>
<ellipse cx="574.80" cy="277.94" rx="2.2" ry="2.0" fill="#fff" stroke="#000" stroke-width="1.0"/>
<ellipse cx="579.40" cy="278.50" rx="2.2" ry="2.0" fill="#fff" stroke="#000" stroke-width="1.0"/>
<ellipse cx="586.00" cy="277.94" rx="2.2" ry="2.0" fill="#fff" stroke="#000" stroke-width="1.0"/>
<ellipse cx="578.00" cy="280.15" rx="2.2" ry="2.0" fill="#fff" stroke="#000" stroke-width="1.0"/>
<ellipse cx="582.00" cy="280.70" rx="2.2" ry="2.0" fill="#fff" stroke="#000" stroke-width="1.0"/>
<ellipse cx="576.60" cy="282.91" rx="2.2" ry="2.0" fill="#fff" stroke="#000" stroke-width="1.0"/>
<ellipse cx="581.80" cy="284.02" rx="2.2" ry="2.0" fill="#fff" stroke="#000" stroke-width="1.0"/>
<ellipse cx="586.60" cy="281.26" rx="2.2" ry="2.0" fill="#fff" stroke="#000" stroke-width="1.0"/>
<ellipse cx="577.60" cy="285.12" rx="2.2" ry="2.0" fill="#fff" stroke="#000" stroke-width="1.0"/>
<ellipse cx="604.40" cy="259.18" rx="2.2" ry="2.0" fill="#fff" stroke="#000" stroke-width="1.0"/>
<ellipse cx="603.60" cy="262.49" rx="2.2" ry="2.0" fill="#fff" stroke="#000" stroke-width="1.0"/>
<ellipse cx="603.80" cy="266.35" rx="2.2" ry="2.0" fill="#fff" stroke="#000" stroke-width="1.0"/>
<ellipse cx="603.60" cy="268.56" rx="2.2" ry="2.0" fill="#fff" stroke="#000" stroke-width="1.0"/>
<ellipse cx="597.80" cy="277.39" rx="2.2" ry="2.0" fill="#fff" stroke="#000" stroke-width="1.0"/>
<ellipse cx="601.40" cy="287.33" rx="2.2" ry="2.0" fill="#fff" stroke="#000" stroke-width="1.0"/>
<ellipse cx="608.80" cy="286.22" rx="2.2" ry="2.0" fill="#fff" stroke="#000" stroke-width="1.0"/>
<ellipse cx="634.40" cy="194.04" rx="2.2" ry="2.0" fill="#fff" stroke="#000" stroke-width="1.0"/>
<ellipse cx="633.60" cy="268.01" rx="2.2" ry="2.0" fill="#fff" stroke="#000" stroke-width="1.0"/>
<ellipse cx="640.40" cy="272.98" rx="2.2" ry="2.0" fill="#fff" stroke="#000" stroke-width="1.0"/>
<ellipse cx="636.00" cy="275.18" rx="2.2" ry="2.0" fill="#fff" stroke="#000" stroke-width="1.0"/>
<ellipse cx="643.00" cy="276.84" rx="2.2" ry="2.0" fill="#fff" stroke="#000" stroke-width="1.0"/>
<ellipse cx="638.00" cy="279.60" rx="2.2" ry="2.0" fill="#fff" stroke="#000" stroke-width="1.0"/>
<ellipse cx="634.40" cy="280.70" rx="2.2" ry="2.0" fill="#fff" stroke="#000" stroke-width="1.0"/>
<ellipse cx="641.00" cy="281.26" rx="2.2" ry="2.0" fill="#fff" stroke="#000" stroke-width="1.0"/>
<ellipse cx="636.00" cy="283.46" rx="2.2" ry="2.0" fill="#fff" stroke="#000" stroke-width="1.0"/>
<ellipse cx="632.40" cy="285.67" rx="2.2" ry="2.0" fill="#fff" stroke="#000" stroke-width="1.0"/>
<ellipse cx="640.00" cy="286.78" rx="2.2" ry="2.0" fill="#fff" stroke="#000" stroke-width="1.0"/>
<ellipse cx="635.00" cy="287.88" rx="2.2" ry="2.0" fill="#fff" stroke="#000" stroke-width="1.0"/>
<ellipse cx="641.60" cy="288.98" rx="2.2" ry="2.0" fill="#fff" stroke="#000" stroke-width="1.0"/>
<ellipse cx="633.40" cy="290.09" rx="2.2" ry="2.0" fill="#fff" stroke="#000" stroke-width="1.0"/>
<ellipse cx="637.60" cy="291.19" rx="2.2" ry="2.0" fill="#fff" stroke="#000" stroke-width="1.0"/>
<ellipse cx="641.00" cy="291.74" rx="2.2" ry="2.0" fill="#fff" stroke="#000" stroke-width="1.0"/>
<ellipse cx="656.60" cy="194.04" rx="2.2" ry="2.0" fill="#fff" stroke="#000" stroke-width="1.0"/>
<ellipse cx="660.40" cy="194.04" rx="2.2" ry="2.0" fill="#fff" stroke="#000" stroke-width="1.0"/>
<ellipse cx="664.40" cy="194.04" rx="2.2" ry="2.0" fill="#fff" stroke="#000" stroke-width="1.0"/>
<ellipse cx="665.00" cy="235.99" rx="2.2" ry="2.0" fill="#fff" stroke="#000" stroke-width="1.0"/>
<ellipse cx="665.40" cy="254.21" rx="2.2" ry="2.0" fill="#fff" stroke="#000" stroke-width="1.0"/>
<ellipse cx="663.00" cy="258.62" rx="2.2" ry="2.0" fill="#fff" stroke="#000" stroke-width="1.0"/>
<ellipse cx="657.20" cy="273.53" rx="2.2" ry="2.0" fill="#fff" stroke="#000" stroke-width="1.0"/>
<line x1="580.60" y1="276.29" x2="580.60" y2="280.70" stroke="#111" stroke-width="0.7"/>
<line x1="578.70" y1="276.29" x2="582.50" y2="276.29" stroke="#111" stroke-width="0.7"/>
<line x1="578.70" y1="280.70" x2="582.50" y2="280.70" stroke="#111" stroke-width="0.7"/>
<line x1="603.60" y1="268.01" x2="603.60" y2="276.84" stroke="#111" stroke-width="0.7"/>
<line x1="601.70" y1="268.01" x2="605.50" y2="268.01" stroke="#111" stroke-width="0.7"/>
<line x1="601.70" y1="276.84" x2="605.50" y2="276.84" stroke="#111" stroke-width="0.7"/>
<line x1="638.40" y1="272.42" x2="638.40" y2="282.36" stroke="#111" stroke-width="0.7"/>
<line x1="636.50" y1="272.42" x2="640.30" y2="272.42" stroke="#111" stroke-width="0.7"/>
<line x1="636.50" y1="282.36" x2="640.30" y2="282.36" stroke="#111" stroke-width="0.7"/>
<line x1="661.60" y1="217.22" x2="661.60" y2="239.30" stroke="#111" stroke-width="0.7"/>
<line x1="659.70" y1="217.22" x2="663.50" y2="217.22" stroke="#111" stroke-width="0.7"/>
<line x1="659.70" y1="239.30" x2="663.50" y2="239.30" stroke="#111" stroke-width="0.7"/>
<line x1="578" y1="248" x2="603" y2="248" stroke="#333" stroke-width="1"/>
<text x="584" y="244" font-size="7.00" fill="#000" stroke="#000" stroke-width="0.12" textLength="15.60" lengthAdjust="spacingAndGlyphs" style="font-weight:bold">N.S.</text>
<text x="655.6" y="214.585" font-size="10.50" fill="#000" stroke="#000" stroke-width="0.12" textLength="12.00" lengthAdjust="spacingAndGlyphs" style="font-weight:bold">***</text>
<text x="570.6" y="304.6" font-size="7.80" fill="#000" stroke="#000" stroke-width="0.12" textLength="41.00" lengthAdjust="spacingAndGlyphs" style="font-weight:bold">1-week-old</text>
<text x="629" y="304.6" font-size="7.80" fill="#000" stroke="#000" stroke-width="0.12" textLength="41.00" lengthAdjust="spacingAndGlyphs" style="font-weight:bold">2-week-old</text>
<rect x="194.90" y="316.30" width="4.6" height="4.5" fill="#fff" stroke="#111" stroke-width="1.0"/>
<rect x="194.90" y="326.00" width="4.6" height="4.6" fill="#EC6E1E" stroke="#2a1a0a" stroke-width="1.0"/>
<text x="204.9" y="321.4" font-size="7.40" fill="#000" stroke="#000" stroke-width="0.12" textLength="30.20" lengthAdjust="spacingAndGlyphs" style="font-weight:bold;font-style:italic">Slc7a5<tspan font-size="5.2" dy="-3.0">fl/fl</tspan></text>
<text x="204.9" y="331.09999999999997" font-size="7.40" fill="#000" stroke="#000" stroke-width="0.12" textLength="62.00" lengthAdjust="spacingAndGlyphs" style="font-weight:bold;font-style:italic">Synl-Cre;Slc7a5<tspan font-size="5.2" dy="-3.0">fl/fl</tspan></text>
<line x1="206.0" y1="340.6" x2="206.0" y2="451.3" stroke="#aaa" stroke-width="1"/>
<line x1="203.8" y1="451.3" x2="333" y2="451.3" stroke="#444" stroke-width="1"/>
<line x1="203.8" y1="451.30" x2="206.0" y2="451.30" stroke="#aaa" stroke-width="1"/>
<text x="194.0" y="454.7" font-size="10.25" fill="#333333" stroke="#333333" stroke-width="0.08" textLength="4.60" lengthAdjust="spacingAndGlyphs" style="">0</text>
<line x1="203.8" y1="429.16" x2="206.0" y2="429.16" stroke="#aaa" stroke-width="1"/>
<text x="189.79999999999998" y="432.56" font-size="10.25" fill="#333333" stroke="#333333" stroke-width="0.08" textLength="8.80" lengthAdjust="spacingAndGlyphs" style="">20</text>
<line x1="203.8" y1="407.02" x2="206.0" y2="407.02" stroke="#aaa" stroke-width="1"/>
<text x="189.79999999999998" y="410.41999999999996" font-size="10.25" fill="#333333" stroke="#333333" stroke-width="0.08" textLength="8.80" lengthAdjust="spacingAndGlyphs" style="">40</text>
<line x1="203.8" y1="384.88" x2="206.0" y2="384.88" stroke="#aaa" stroke-width="1"/>
<text x="189.79999999999998" y="388.28" font-size="10.25" fill="#333333" stroke="#333333" stroke-width="0.08" textLength="8.80" lengthAdjust="spacingAndGlyphs" style="">60</text>
<line x1="203.8" y1="362.74" x2="206.0" y2="362.74" stroke="#aaa" stroke-width="1"/>
<text x="189.79999999999998" y="366.14" font-size="10.25" fill="#333333" stroke="#333333" stroke-width="0.08" textLength="8.80" lengthAdjust="spacingAndGlyphs" style="">80</text>
<line x1="203.8" y1="340.60" x2="206.0" y2="340.60" stroke="#aaa" stroke-width="1"/>
<text x="185.6" y="344.0" font-size="10.25" fill="#333333" stroke="#333333" stroke-width="0.08" textLength="13.00" lengthAdjust="spacingAndGlyphs" style="">100</text>
<text x="0" y="0" font-size="8.969999999999999" fill="#000" text-anchor="middle" textLength="92.30" lengthAdjust="spacingAndGlyphs" stroke="#000" stroke-width="0.12" style="font-weight:bold" transform="translate(182.63 397.15) rotate(-90)">Clasping time (seconds)</text>
<rect x="222.00" y="450.75" width="14.00" height="0.55" fill="#fff" stroke="#333" stroke-width="0.9"/>
<rect x="244.60" y="450.97" width="14.00" height="0.33" fill="#E8771F" stroke="#5a3a1a" stroke-width="0.9"/>
<rect x="279.00" y="451.19" width="14.00" height="0.11" fill="#fff" stroke="#333" stroke-width="0.9"/>
<rect x="302.20" y="356.10" width="15.60" height="95.20" fill="#E8771F" stroke="#5a3a1a" stroke-width="0.9"/>
<ellipse cx="223.60" cy="451.30" rx="2.2" ry="1.9" fill="#fff" stroke="#000" stroke-width="1.0"/>
<ellipse cx="226.00" cy="451.30" rx="2.2" ry="1.9" fill="#fff" stroke="#000" stroke-width="1.0"/>
<ellipse cx="228.40" cy="451.30" rx="2.2" ry="1.9" fill="#fff" stroke="#000" stroke-width="1.0"/>
<ellipse cx="231.20" cy="450.86" rx="2.2" ry="1.9" fill="#fff" stroke="#000" stroke-width="1.0"/>
<ellipse cx="233.40" cy="449.75" rx="2.2" ry="1.9" fill="#fff" stroke="#000" stroke-width="1.0"/>
<ellipse cx="234.20" cy="451.30" rx="2.2" ry="1.9" fill="#fff" stroke="#000" stroke-width="1.0"/>
<ellipse cx="248.40" cy="451.30" rx="2.2" ry="1.9" fill="#fff" stroke="#000" stroke-width="1.0"/>
<ellipse cx="250.40" cy="448.86" rx="2.2" ry="1.9" fill="#fff" stroke="#000" stroke-width="1.0"/>
<ellipse cx="253.00" cy="450.86" rx="2.2" ry="1.9" fill="#fff" stroke="#000" stroke-width="1.0"/>
<ellipse cx="255.00" cy="451.30" rx="2.2" ry="1.9" fill="#fff" stroke="#000" stroke-width="1.0"/>
<ellipse cx="281.00" cy="449.86" rx="2.2" ry="1.9" fill="#fff" stroke="#000" stroke-width="1.0"/>
<ellipse cx="283.60" cy="449.86" rx="2.2" ry="1.9" fill="#fff" stroke="#000" stroke-width="1.0"/>
<ellipse cx="286.20" cy="449.86" rx="2.2" ry="1.9" fill="#fff" stroke="#000" stroke-width="1.0"/>
<ellipse cx="288.80" cy="449.86" rx="2.2" ry="1.9" fill="#fff" stroke="#000" stroke-width="1.0"/>
<ellipse cx="290.80" cy="449.86" rx="2.2" ry="1.9" fill="#fff" stroke="#000" stroke-width="1.0"/>
<ellipse cx="310.60" cy="347.68" rx="2.2" ry="1.9" fill="#fff" stroke="#000" stroke-width="1.0"/>
<ellipse cx="313.40" cy="350.12" rx="2.2" ry="1.9" fill="#fff" stroke="#000" stroke-width="1.0"/>
<ellipse cx="309.40" cy="351.23" rx="2.2" ry="1.9" fill="#fff" stroke="#000" stroke-width="1.0"/>
<ellipse cx="308.60" cy="352.56" rx="2.2" ry="1.9" fill="#fff" stroke="#000" stroke-width="1.0"/>
<ellipse cx="312.20" cy="353.66" rx="2.2" ry="1.9" fill="#fff" stroke="#000" stroke-width="1.0"/>
<ellipse cx="314.60" cy="353.00" rx="2.2" ry="1.9" fill="#fff" stroke="#000" stroke-width="1.0"/>
<ellipse cx="305.40" cy="355.66" rx="2.2" ry="1.9" fill="#fff" stroke="#000" stroke-width="1.0"/>
<ellipse cx="307.00" cy="380.45" rx="2.2" ry="1.9" fill="#fff" stroke="#000" stroke-width="1.0"/>
<line x1="310.00" y1="352.22" x2="310.00" y2="359.97" stroke="#111" stroke-width="0.7"/>
<line x1="308.10" y1="352.22" x2="311.90" y2="352.22" stroke="#111" stroke-width="0.7"/>
<line x1="308.10" y1="359.97" x2="311.90" y2="359.97" stroke="#111" stroke-width="0.7"/>
<line x1="226.4" y1="437" x2="252" y2="437" stroke="#333" stroke-width="1"/>
<text x="231.6" y="433" font-size="7.00" fill="#000" stroke="#000" stroke-width="0.12" textLength="15.40" lengthAdjust="spacingAndGlyphs" style="font-weight:bold">N.S.</text>
<text x="303.6" y="344.58500000000004" font-size="10.50" fill="#000" stroke="#000" stroke-width="0.12" textLength="12.00" lengthAdjust="spacingAndGlyphs" style="font-weight:bold">***</text>
<text x="221" y="463.2" font-size="7.80" fill="#000" stroke="#000" stroke-width="0.12" textLength="41.40" lengthAdjust="spacingAndGlyphs" style="font-weight:bold">1-week-old</text>
<text x="277" y="463.2" font-size="7.80" fill="#000" stroke="#000" stroke-width="0.12" textLength="41.00" lengthAdjust="spacingAndGlyphs" style="font-weight:bold">2-week-old</text>
<rect x="361.50" y="316.30" width="4.6" height="4.5" fill="#fff" stroke="#111" stroke-width="1.0"/>
<rect x="361.50" y="326.00" width="4.6" height="4.6" fill="#EC6E1E" stroke="#2a1a0a" stroke-width="1.0"/>
<text x="371.5" y="321.4" font-size="7.40" fill="#000" stroke="#000" stroke-width="0.12" textLength="30.20" lengthAdjust="spacingAndGlyphs" style="font-weight:bold;font-style:italic">Slc7a5<tspan font-size="5.2" dy="-3.0">fl/fl</tspan></text>
<text x="371.5" y="331.09999999999997" font-size="7.40" fill="#000" stroke="#000" stroke-width="0.12" textLength="62.00" lengthAdjust="spacingAndGlyphs" style="font-weight:bold;font-style:italic">Synl-Cre;Slc7a5<tspan font-size="5.2" dy="-3.0">fl/fl</tspan></text>
<line x1="373.6" y1="341.0" x2="373.6" y2="451.0" stroke="#aaa" stroke-width="1"/>
<line x1="371.40000000000003" y1="451.0" x2="508" y2="451.0" stroke="#444" stroke-width="1"/>
<line x1="371.40000000000003" y1="451.00" x2="373.6" y2="451.00" stroke="#aaa" stroke-width="1"/>
<text x="362.79999999999995" y="454.4" font-size="10.50" fill="#333333" stroke="#333333" stroke-width="0.08" textLength="4.60" lengthAdjust="spacingAndGlyphs" style="">0</text>
<line x1="371.40000000000003" y1="429.00" x2="373.6" y2="429.00" stroke="#aaa" stroke-width="1"/>
<text x="362.79999999999995" y="432.4" font-size="10.50" fill="#333333" stroke="#333333" stroke-width="0.08" textLength="4.60" lengthAdjust="spacingAndGlyphs" style="">1</text>
<line x1="371.40000000000003" y1="407.00" x2="373.6" y2="407.00" stroke="#aaa" stroke-width="1"/>
<text x="362.79999999999995" y="410.4" font-size="10.50" fill="#333333" stroke="#333333" stroke-width="0.08" textLength="4.60" lengthAdjust="spacingAndGlyphs" style="">2</text>
<line x1="371.40000000000003" y1="385.00" x2="373.6" y2="385.00" stroke="#aaa" stroke-width="1"/>
<text x="362.79999999999995" y="388.4" font-size="10.50" fill="#333333" stroke="#333333" stroke-width="0.08" textLength="4.60" lengthAdjust="spacingAndGlyphs" style="">3</text>
<line x1="371.40000000000003" y1="363.00" x2="373.6" y2="363.00" stroke="#aaa" stroke-width="1"/>
<text x="362.79999999999995" y="366.4" font-size="10.50" fill="#333333" stroke="#333333" stroke-width="0.08" textLength="4.60" lengthAdjust="spacingAndGlyphs" style="">4</text>
<line x1="371.40000000000003" y1="341.00" x2="373.6" y2="341.00" stroke="#aaa" stroke-width="1"/>
<text x="362.79999999999995" y="344.4" font-size="10.50" fill="#333333" stroke="#333333" stroke-width="0.08" textLength="4.60" lengthAdjust="spacingAndGlyphs" style="">5</text>
<text x="0" y="0" font-size="8.969999999999999" fill="#000" text-anchor="middle" textLength="58.70" lengthAdjust="spacingAndGlyphs" stroke="#000" stroke-width="0.12" style="font-weight:bold" transform="translate(349.13 395.65) rotate(-90)">Clasping score</text>
<rect x="390.40" y="363.00" width="16.60" height="88.00" fill="#fff" stroke="#333" stroke-width="0.9"/>
<rect x="415.40" y="385.00" width="17.20" height="66.00" fill="#E8771F" stroke="#5a3a1a" stroke-width="0.9"/>
<rect x="452.00" y="363.00" width="17.40" height="88.00" fill="#fff" stroke="#333" stroke-width="0.9"/>
<rect x="479.00" y="450.56" width="16.00" height="0.44" fill="#E8771F" stroke="#5a3a1a" stroke-width="0.9"/>
<ellipse cx="393.40" cy="363.00" rx="2.3" ry="2.0" fill="#fff" stroke="#000" stroke-width="1.0"/>
<ellipse cx="396.80" cy="363.00" rx="2.3" ry="2.0" fill="#fff" stroke="#000" stroke-width="1.0"/>
<ellipse cx="400.20" cy="363.00" rx="2.3" ry="2.0" fill="#fff" stroke="#000" stroke-width="1.0"/>
<ellipse cx="403.60" cy="363.00" rx="2.3" ry="2.0" fill="#fff" stroke="#000" stroke-width="1.0"/>
<ellipse cx="404.80" cy="363.00" rx="2.3" ry="2.0" fill="#fff" stroke="#000" stroke-width="1.0"/>
<ellipse cx="418.60" cy="385.00" rx="2.3" ry="2.0" fill="#fff" stroke="#000" stroke-width="1.0"/>
<ellipse cx="422.20" cy="385.00" rx="2.3" ry="2.0" fill="#fff" stroke="#000" stroke-width="1.0"/>
<ellipse cx="425.80" cy="385.00" rx="2.3" ry="2.0" fill="#fff" stroke="#000" stroke-width="1.0"/>
<ellipse cx="429.40" cy="385.00" rx="2.3" ry="2.0" fill="#fff" stroke="#000" stroke-width="1.0"/>
<ellipse cx="430.20" cy="385.00" rx="2.3" ry="2.0" fill="#fff" stroke="#000" stroke-width="1.0"/>
<ellipse cx="455.00" cy="363.00" rx="2.3" ry="2.0" fill="#fff" stroke="#000" stroke-width="1.0"/>
<ellipse cx="458.60" cy="363.00" rx="2.3" ry="2.0" fill="#fff" stroke="#000" stroke-width="1.0"/>
<ellipse cx="462.20" cy="363.00" rx="2.3" ry="2.0" fill="#fff" stroke="#000" stroke-width="1.0"/>
<ellipse cx="465.80" cy="363.00" rx="2.3" ry="2.0" fill="#fff" stroke="#000" stroke-width="1.0"/>
<ellipse cx="466.60" cy="363.00" rx="2.3" ry="2.0" fill="#fff" stroke="#000" stroke-width="1.0"/>
<ellipse cx="483.40" cy="449.46" rx="2.3" ry="2.0" fill="#fff" stroke="#000" stroke-width="1.0"/>
<ellipse cx="486.80" cy="449.46" rx="2.3" ry="2.0" fill="#fff" stroke="#000" stroke-width="1.0"/>
<ellipse cx="490.20" cy="449.46" rx="2.3" ry="2.0" fill="#fff" stroke="#000" stroke-width="1.0"/>
<ellipse cx="491.40" cy="449.46" rx="2.3" ry="2.0" fill="#fff" stroke="#000" stroke-width="1.0"/>
<text x="418" y="381.18500000000006" font-size="10.50" fill="#000" stroke="#000" stroke-width="0.12" textLength="12.00" lengthAdjust="spacingAndGlyphs" style="font-weight:bold">***</text>
<text x="481" y="447.58500000000004" font-size="10.50" fill="#000" stroke="#000" stroke-width="0.12" textLength="12.40" lengthAdjust="spacingAndGlyphs" style="font-weight:bold">***</text>
<text x="390.8" y="463.2" font-size="7.80" fill="#000" stroke="#000" stroke-width="0.12" textLength="41.20" lengthAdjust="spacingAndGlyphs" style="font-weight:bold">1-week-old</text>
<text x="452" y="463.2" font-size="7.80" fill="#000" stroke="#000" stroke-width="0.12" textLength="41.00" lengthAdjust="spacingAndGlyphs" style="font-weight:bold">2-week-old</text>
<rect x="536.70" y="316.90" width="4.6" height="4.5" fill="#fff" stroke="#111" stroke-width="1.0"/>
<rect x="536.70" y="326.60" width="4.6" height="4.6" fill="#EC6E1E" stroke="#2a1a0a" stroke-width="1.0"/>
<text x="546.7" y="322.0" font-size="7.40" fill="#000" stroke="#000" stroke-width="0.12" textLength="30.20" lengthAdjust="spacingAndGlyphs" style="font-weight:bold;font-style:italic">Slc7a5<tspan font-size="5.2" dy="-3.0">fl/fl</tspan></text>
<text x="546.7" y="331.7" font-size="7.40" fill="#000" stroke="#000" stroke-width="0.12" textLength="62.00" lengthAdjust="spacingAndGlyphs" style="font-weight:bold;font-style:italic">Synl-Cre;Slc7a5<tspan font-size="5.2" dy="-3.0">fl/fl</tspan></text>
<line x1="557.4" y1="341.0" x2="557.4" y2="451.4" stroke="#333" stroke-width="1"/>
<line x1="555.1999999999999" y1="451.4" x2="685" y2="451.4" stroke="#444" stroke-width="1"/>
<line x1="555.1999999999999" y1="451.40" x2="557.4" y2="451.40" stroke="#333" stroke-width="1"/>
<text x="546.1999999999999" y="454.79999999999995" font-size="10.25" fill="#333333" stroke="#333333" stroke-width="0.08" textLength="4.60" lengthAdjust="spacingAndGlyphs" style="">0</text>
<line x1="555.1999999999999" y1="423.80" x2="557.4" y2="423.80" stroke="#333" stroke-width="1"/>
<text x="542.0" y="427.19999999999993" font-size="10.25" fill="#333333" stroke="#333333" stroke-width="0.08" textLength="8.80" lengthAdjust="spacingAndGlyphs" style="">50</text>
<line x1="555.1999999999999" y1="396.20" x2="557.4" y2="396.20" stroke="#333" stroke-width="1"/>
<text x="537.8" y="399.59999999999997" font-size="10.25" fill="#333333" stroke="#333333" stroke-width="0.08" textLength="13.00" lengthAdjust="spacingAndGlyphs" style="">100</text>
<line x1="555.1999999999999" y1="368.60" x2="557.4" y2="368.60" stroke="#333" stroke-width="1"/>
<text x="537.8" y="371.99999999999994" font-size="10.25" fill="#333333" stroke="#333333" stroke-width="0.08" textLength="13.00" lengthAdjust="spacingAndGlyphs" style="">150</text>
<line x1="555.1999999999999" y1="341.00" x2="557.4" y2="341.00" stroke="#333" stroke-width="1"/>
<text x="537.8" y="344.4" font-size="10.25" fill="#333333" stroke="#333333" stroke-width="0.08" textLength="13.00" lengthAdjust="spacingAndGlyphs" style="">200</text>
<text x="0" y="0" font-size="8.969999999999999" fill="#000" text-anchor="middle" textLength="100.50" lengthAdjust="spacingAndGlyphs" stroke="#000" stroke-width="0.12" style="font-weight:bold" transform="translate(524.43 395.65) rotate(-90)">Latency to right (seconds)</text>
<rect x="573.00" y="446.43" width="16.00" height="4.97" fill="#fff" stroke="#333" stroke-width="0.9"/>
<rect x="596.00" y="407.24" width="15.60" height="44.16" fill="#E8771F" stroke="#5a3a1a" stroke-width="0.9"/>
<rect x="631.00" y="451.23" width="15.00" height="0.17" fill="#fff" stroke="#333" stroke-width="0.9"/>
<rect x="653.40" y="399.51" width="16.20" height="51.89" fill="#E8771F" stroke="#5a3a1a" stroke-width="0.9"/>
<ellipse cx="580.00" cy="426.56" rx="2.2" ry="2.1" fill="#fff" stroke="#000" stroke-width="1.0"/>
<ellipse cx="583.60" cy="435.94" rx="2.2" ry="2.1" fill="#fff" stroke="#000" stroke-width="1.0"/>
<ellipse cx="581.00" cy="441.46" rx="2.2" ry="2.1" fill="#fff" stroke="#000" stroke-width="1.0"/>
<ellipse cx="584.60" cy="440.36" rx="2.2" ry="2.1" fill="#fff" stroke="#000" stroke-width="1.0"/>
<ellipse cx="576.00" cy="446.43" rx="2.2" ry="2.1" fill="#fff" stroke="#000" stroke-width="1.0"/>
<ellipse cx="579.60" cy="444.78" rx="2.2" ry="2.1" fill="#fff" stroke="#000" stroke-width="1.0"/>
<ellipse cx="585.60" cy="446.98" rx="2.2" ry="2.1" fill="#fff" stroke="#000" stroke-width="1.0"/>
<ellipse cx="574.40" cy="448.64" rx="2.2" ry="2.1" fill="#fff" stroke="#000" stroke-width="1.0"/>
<ellipse cx="582.00" cy="449.19" rx="2.2" ry="2.1" fill="#fff" stroke="#000" stroke-width="1.0"/>
<ellipse cx="587.00" cy="449.19" rx="2.2" ry="2.1" fill="#fff" stroke="#000" stroke-width="1.0"/>
<ellipse cx="578.00" cy="450.30" rx="2.2" ry="2.1" fill="#fff" stroke="#000" stroke-width="1.0"/>
<ellipse cx="584.00" cy="450.85" rx="2.2" ry="2.1" fill="#fff" stroke="#000" stroke-width="1.0"/>
<ellipse cx="574.60" cy="451.40" rx="2.2" ry="2.1" fill="#fff" stroke="#000" stroke-width="1.0"/>
<ellipse cx="577.00" cy="451.40" rx="2.2" ry="2.1" fill="#fff" stroke="#000" stroke-width="1.0"/>
<ellipse cx="586.60" cy="451.40" rx="2.2" ry="2.1" fill="#fff" stroke="#000" stroke-width="1.0"/>
<ellipse cx="604.40" cy="352.04" rx="2.2" ry="2.1" fill="#fff" stroke="#000" stroke-width="1.0"/>
<ellipse cx="605.80" cy="384.06" rx="2.2" ry="2.1" fill="#fff" stroke="#000" stroke-width="1.0"/>
<ellipse cx="602.40" cy="418.28" rx="2.2" ry="2.1" fill="#fff" stroke="#000" stroke-width="1.0"/>
<ellipse cx="605.00" cy="418.28" rx="2.2" ry="2.1" fill="#fff" stroke="#000" stroke-width="1.0"/>
<ellipse cx="607.60" cy="443.12" rx="2.2" ry="2.1" fill="#fff" stroke="#000" stroke-width="1.0"/>
<ellipse cx="633.40" cy="449.85" rx="2.2" ry="2.1" fill="#fff" stroke="#000" stroke-width="1.0"/>
<ellipse cx="636.20" cy="449.85" rx="2.2" ry="2.1" fill="#fff" stroke="#000" stroke-width="1.0"/>
<ellipse cx="639.00" cy="449.85" rx="2.2" ry="2.1" fill="#fff" stroke="#000" stroke-width="1.0"/>
<ellipse cx="641.80" cy="449.85" rx="2.2" ry="2.1" fill="#fff" stroke="#000" stroke-width="1.0"/>
<ellipse cx="643.80" cy="449.85" rx="2.2" ry="2.1" fill="#fff" stroke="#000" stroke-width="1.0"/>
<ellipse cx="656.20" cy="352.04" rx="2.2" ry="2.1" fill="#fff" stroke="#000" stroke-width="1.0"/>
<ellipse cx="656.20" cy="361.42" rx="2.2" ry="2.1" fill="#fff" stroke="#000" stroke-width="1.0"/>
<ellipse cx="656.60" cy="377.98" rx="2.2" ry="2.1" fill="#fff" stroke="#000" stroke-width="1.0"/>
<ellipse cx="658.20" cy="387.37" rx="2.2" ry="2.1" fill="#fff" stroke="#000" stroke-width="1.0"/>
<ellipse cx="664.80" cy="386.26" rx="2.2" ry="2.1" fill="#fff" stroke="#000" stroke-width="1.0"/>
<ellipse cx="666.60" cy="410.55" rx="2.2" ry="2.1" fill="#fff" stroke="#000" stroke-width="1.0"/>
<ellipse cx="658.20" cy="428.22" rx="2.2" ry="2.1" fill="#fff" stroke="#000" stroke-width="1.0"/>
<ellipse cx="657.60" cy="442.57" rx="2.2" ry="2.1" fill="#fff" stroke="#000" stroke-width="1.0"/>
<ellipse cx="665.60" cy="450.30" rx="2.2" ry="2.1" fill="#fff" stroke="#000" stroke-width="1.0"/>
<line x1="581.00" y1="444.78" x2="581.00" y2="448.09" stroke="#111" stroke-width="0.7"/>
<line x1="579.10" y1="444.78" x2="582.90" y2="444.78" stroke="#111" stroke-width="0.7"/>
<line x1="579.10" y1="448.09" x2="582.90" y2="448.09" stroke="#111" stroke-width="0.7"/>
<line x1="603.80" y1="396.20" x2="603.80" y2="407.24" stroke="#111" stroke-width="0.7"/>
<line x1="601.90" y1="396.20" x2="605.70" y2="396.20" stroke="#111" stroke-width="0.7"/>
<line x1="661.50" y1="387.37" x2="661.50" y2="411.66" stroke="#111" stroke-width="0.7"/>
<line x1="659.60" y1="387.37" x2="663.40" y2="387.37" stroke="#111" stroke-width="0.7"/>
<line x1="659.60" y1="411.66" x2="663.40" y2="411.66" stroke="#111" stroke-width="0.7"/>
<text x="598" y="376.58500000000004" font-size="10.50" fill="#000" stroke="#000" stroke-width="0.12" textLength="12.00" lengthAdjust="spacingAndGlyphs" style="font-weight:bold">***</text>
<text x="655.2" y="346.785" font-size="10.50" fill="#000" stroke="#000" stroke-width="0.12" textLength="12.40" lengthAdjust="spacingAndGlyphs" style="font-weight:bold">***</text>
<text x="569.6" y="463.2" font-size="7.80" fill="#000" stroke="#000" stroke-width="0.12" textLength="41.40" lengthAdjust="spacingAndGlyphs" style="font-weight:bold">1-week-old</text>
<text x="631" y="463.2" font-size="7.80" fill="#000" stroke="#000" stroke-width="0.12" textLength="41.00" lengthAdjust="spacingAndGlyphs" style="font-weight:bold">2-week-old</text>
<defs><linearGradient id="pg" x1="0" y1="0.3" x2="1" y2="0.7"><stop offset="0" stop-color="#ececec"/><stop offset="0.55" stop-color="#f5f5f5"/><stop offset="1" stop-color="#fbfbfb"/></linearGradient><linearGradient id="mg1" x1="0" y1="0" x2="1" y2="0"><stop offset="0" stop-color="#7f828a"/><stop offset="0.5" stop-color="#5f6269"/><stop offset="1" stop-color="#767981"/></linearGradient><linearGradient id="mg2" x1="0" y1="0" x2="1" y2="0"><stop offset="0" stop-color="#5d6067"/><stop offset="0.5" stop-color="#45484e"/><stop offset="1" stop-color="#575a61"/></linearGradient><filter id="bl" x="-20%" y="-20%" width="140%" height="140%"><feGaussianBlur stdDeviation="0.5"/></filter></defs>
<rect x="16.9" y="330.8" width="72.0" height="61.8" rx="0.6" fill="url(#pg)" stroke="#5c5c5c" stroke-width="1.6"/>
<rect x="90.6" y="330.8" width="72.6" height="61.8" rx="0.6" fill="url(#pg)" stroke="#5c5c5c" stroke-width="1.6"/>
<rect x="17.1" y="397.8" width="71.8" height="61.5" rx="0.6" fill="url(#pg)" stroke="#5c5c5c" stroke-width="1.6"/>
<rect x="90.6" y="397.8" width="72.6" height="61.5" rx="0.6" fill="url(#pg)" stroke="#5c5c5c" stroke-width="1.6"/>
<text x="32" y="328" font-size="7.90" fill="#000" stroke="#000" stroke-width="0.12" textLength="41.40" lengthAdjust="spacingAndGlyphs" style="font-weight:bold">1-week-old</text>
<text x="107" y="328" font-size="7.90" fill="#000" stroke="#000" stroke-width="0.12" textLength="41.00" lengthAdjust="spacingAndGlyphs" style="font-weight:bold">2-week-old</text>
<text x="0" y="0" font-size="9.2" fill="#000" text-anchor="middle" textLength="33.00" lengthAdjust="spacingAndGlyphs" stroke="#000" stroke-width="0.12" style="font-weight:bold;font-style:italic" transform="translate(9.11 366.00) rotate(-90)">Slc7a5<tspan font-size="5" dy="-3">fl/fl</tspan></text>
<text x="0" y="0" font-size="9.2" fill="#000" text-anchor="middle" textLength="69.40" lengthAdjust="spacingAndGlyphs" stroke="#000" stroke-width="0.12" style="font-weight:bold;font-style:italic" transform="translate(9.51 429.30) rotate(-90)">Synl-Cre;Slc7a5<tspan font-size="5" dy="-3">fl/fl</tspan></text>
<g filter="url(#bl)">
<path d="M55.9,331 L55.9,340" stroke="#dfc2bb" stroke-width="1.2"/>
<path d="M46,347 C42,349.5 38.5,352 35.6,355 M68.6,347 C71.5,349 74,351.6 76.4,354.6" stroke="#dfc2bb" stroke-width="2.2" fill="none" stroke-linecap="round"/>
<path d="M35.6,355 l-1.4,-0.8 M35.6,355 l-0.6,1.8 M35.6,355 l-1.6,0.8 M76.4,354.6 l1.4,-0.6 M76.4,354.6 l0.6,1.8" stroke="#dfc2bb" stroke-width="0.7"/>
<path d="M55.90,338.80 C54.67,338.80 54.25,340.70 52.40,342.00 C50.55,343.30 45.63,345.27 44.80,346.60 C43.97,347.93 46.87,348.77 47.40,350.00 C47.93,351.23 47.78,352.12 48.00,354.00 C48.22,355.88 48.67,358.87 48.70,361.30 C48.73,363.73 48.05,366.38 48.20,368.60 C48.35,370.82 48.87,372.60 49.60,374.60 C50.33,376.60 51.03,380.60 52.60,380.60 C54.17,380.60 57.43,376.60 59.00,374.60 C60.57,372.60 61.32,370.82 62.00,368.60 C62.68,366.38 62.60,363.73 63.10,361.30 C63.60,358.87 64.45,355.88 65.00,354.00 C65.55,352.12 65.77,351.23 66.40,350.00 C67.03,348.77 69.90,347.93 68.80,346.60 C67.70,345.27 61.95,343.30 59.80,342.00 C57.65,340.70 57.13,338.80 55.90,338.80 Z" fill="url(#mg1)" stroke="#6a6a6a" stroke-width="0.4"/>
<ellipse cx="56" cy="344" rx="5" ry="2.6" fill="#8e8e8e" opacity="0.6"/>
<path d="M50.4,374 C50,377 50.8,379.6 52.4,380.8 M57.8,374 C58,377 57,379 55.6,380.2" stroke="#dfc2bb" stroke-width="1.0" fill="none"/>
<path d="M128.2,331 L128.2,342.6" stroke="#dfc2bb" stroke-width="1.2"/>
<path d="M119.2,352.4 C116,356 113,359.6 110.2,363.6 M135.8,357.4 C137.4,361 138.8,364.6 140,368" stroke="#dfc2bb" stroke-width="2.2" fill="none" stroke-linecap="round"/>
<path d="M110.2,363.6 l-1.4,-0.4 M110.2,363.6 l-0.8,1.6 M140,368 l1.4,-0.4 M140,368 l0.2,1.6" stroke="#dfc2bb" stroke-width="0.7"/>
<path d="M128.00,341.60 C127.10,341.60 126.80,342.60 125.40,344.00 C124.00,345.40 120.80,347.83 119.60,350.00 C118.40,352.17 118.43,354.57 118.20,357.00 C117.97,359.43 118.10,362.27 118.20,364.60 C118.30,366.93 118.53,369.05 118.80,371.00 C119.07,372.95 119.33,374.47 119.80,376.30 C120.27,378.13 120.77,380.15 121.60,382.00 C122.43,383.85 123.57,387.40 124.80,387.40 C126.03,387.40 127.83,383.85 129.00,382.00 C130.17,380.15 131.03,378.13 131.80,376.30 C132.57,374.47 133.00,372.95 133.60,371.00 C134.20,369.05 134.97,366.93 135.40,364.60 C135.83,362.27 136.17,359.43 136.20,357.00 C136.23,354.57 136.50,352.17 135.60,350.00 C134.70,347.83 132.07,345.40 130.80,344.00 C129.53,342.60 128.90,341.60 128.00,341.60 Z" fill="url(#mg2)"/>
<ellipse cx="128.2" cy="344.6" rx="2.8" ry="2" fill="#8a8080" opacity="0.7"/>
<path d="M121.4,380 C121.6,383.4 123,386 124.6,387 M129.6,380 C129.4,383.4 128,385.8 126.4,386.8" stroke="#dfc2bb" stroke-width="1.1" fill="none"/>
<path d="M52.7,398 L52.9,407" stroke="#dfc2bb" stroke-width="1.2"/>
<path d="M47,418 C45,420.4 43,422.6 41,424.8 M61,418 C62.6,420.4 63.8,423 65.1,425.6" stroke="#dfc2bb" stroke-width="2.1" fill="none" stroke-linecap="round"/>
<path d="M53.20,406.40 C52.30,406.40 51.48,407.98 50.60,409.00 C49.72,410.02 48.57,410.77 47.90,412.50 C47.23,414.23 46.82,416.42 46.60,419.40 C46.38,422.38 46.50,426.97 46.60,430.40 C46.70,433.83 46.77,437.40 47.20,440.00 C47.63,442.60 48.28,444.23 49.20,446.00 C50.12,447.77 51.33,450.60 52.70,450.60 C54.07,450.60 56.25,447.77 57.40,446.00 C58.55,444.23 59.12,442.60 59.60,440.00 C60.08,437.40 60.07,433.83 60.30,430.40 C60.53,426.97 61.23,422.38 61.00,419.40 C60.77,416.42 59.73,414.23 58.90,412.50 C58.07,410.77 56.95,410.02 56.00,409.00 C55.05,407.98 54.10,406.40 53.20,406.40 Z" fill="url(#mg1)" stroke="#6a6a6a" stroke-width="0.4"/>
<ellipse cx="53.2" cy="409.6" rx="3.4" ry="2.4" fill="#8e8e8e" opacity="0.6"/>
<path d="M49.6,442 C49.8,445.6 51,448.6 52.6,450 M57.4,442 C57.2,445.6 56,448.4 54.6,449.8" stroke="#dfc2bb" stroke-width="1.0" fill="none"/>
<path d="M128.2,398 L128.2,405.6" stroke="#dfc2bb" stroke-width="1.2"/>
<path d="M129.00,405.00 C127.67,405.00 126.17,405.80 125.00,406.60 C123.83,407.40 122.83,407.90 122.00,409.80 C121.17,411.70 120.57,415.02 120.00,418.00 C119.43,420.98 118.95,424.48 118.60,427.70 C118.25,430.92 117.78,434.55 117.90,437.30 C118.02,440.05 118.62,442.22 119.30,444.20 C119.98,446.18 120.52,449.20 122.00,449.20 C123.48,449.20 126.82,446.18 128.20,444.20 C129.58,442.22 129.60,440.05 130.30,437.30 C131.00,434.55 131.83,430.92 132.40,427.70 C132.97,424.48 133.48,420.98 133.70,418.00 C133.92,415.02 133.82,411.70 133.70,409.80 C133.58,407.90 133.78,407.40 133.00,406.60 C132.22,405.80 130.33,405.00 129.00,405.00 Z" fill="url(#mg2)"/>
<ellipse cx="128.8" cy="407.4" rx="3" ry="2" fill="#b09494" opacity="0.8"/>
<path d="M119.8,442 C119.8,445.4 120.6,448 122,449 M126.8,442 C126.4,445.4 125,448 123.6,449" stroke="#dfc2bb" stroke-width="1.2" fill="none"/>
</g></svg></body></html>
